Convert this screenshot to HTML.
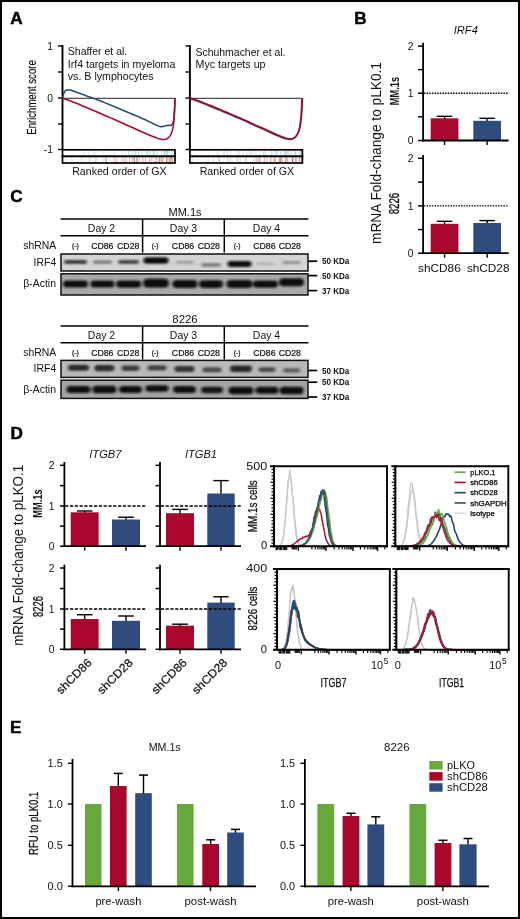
<!DOCTYPE html>
<html lang="en"><head><meta charset="utf-8"><title>Figure</title>
<style>
html,body{margin:0;padding:0;background:#fff;}
svg{display:block;font-family:"Liberation Sans",sans-serif;fill:#111;}
</style></head><body>
<svg width="520" height="919" viewBox="0 0 520 919">
<rect x="0" y="0" width="520" height="919" fill="#fff"/>
<rect x="1" y="1" width="518" height="917" fill="none" stroke="#000" stroke-width="2"/>
<text x="10.3" y="23.7" font-weight="bold" fill="#000" font-size="17.2" stroke="#000" stroke-width="0.45">A</text>
<text x="354.2" y="24.2" font-weight="bold" fill="#000" font-size="17.2" stroke="#000" stroke-width="0.45">B</text>
<text x="10.3" y="202.3" font-weight="bold" fill="#000" font-size="17.2" stroke="#000" stroke-width="0.45">C</text>
<text x="10.5" y="439" font-weight="bold" fill="#000" font-size="17.2" stroke="#000" stroke-width="0.45">D</text>
<text x="10" y="733.3" font-weight="bold" fill="#000" font-size="17.2" stroke="#000" stroke-width="0.45">E</text>
<line x1="62.5" y1="45" x2="62.5" y2="150" stroke="#000" stroke-width="1.9"/>
<line x1="58" y1="46" x2="62.5" y2="46" stroke="#000" stroke-width="1.4"/>
<text x="52.9" y="49.7" text-anchor="end" font-size="10.3">1</text>
<line x1="58" y1="72" x2="62.5" y2="72" stroke="#000" stroke-width="1.4"/>
<line x1="58" y1="98" x2="62.5" y2="98" stroke="#000" stroke-width="1.4"/>
<text x="52.9" y="101.7" text-anchor="end" font-size="10.3">0</text>
<line x1="58" y1="124" x2="62.5" y2="124" stroke="#000" stroke-width="1.4"/>
<line x1="58" y1="149.5" x2="62.5" y2="149.5" stroke="#000" stroke-width="1.4"/>
<text x="52.9" y="153.2" text-anchor="end" font-size="10.3">-1</text>
<line x1="62.5" y1="98.4" x2="175" y2="98.4" stroke="#505050" stroke-width="1.1"/>
<rect x="62.5" y="149.8" width="112.5" height="6.6" fill="#fff"/>
<line x1="130.03" y1="150.4" x2="130.03" y2="155.8" stroke="rgb(140,180,222)" stroke-width="0.9" opacity="0.11"/>
<line x1="154.59" y1="150.4" x2="154.59" y2="155.8" stroke="rgb(140,180,222)" stroke-width="0.9" opacity="0.11"/>
<line x1="146.95" y1="150.4" x2="146.95" y2="155.8" stroke="rgb(140,180,222)" stroke-width="0.9" opacity="0.21"/>
<line x1="94.18" y1="150.4" x2="94.18" y2="155.8" stroke="rgb(140,180,222)" stroke-width="0.9" opacity="0.14"/>
<line x1="88.71" y1="150.4" x2="88.71" y2="155.8" stroke="rgb(140,180,222)" stroke-width="0.9" opacity="0.11"/>
<line x1="96.86" y1="150.4" x2="96.86" y2="155.8" stroke="rgb(140,180,222)" stroke-width="0.9" opacity="0.06"/>
<line x1="138.65" y1="150.4" x2="138.65" y2="155.8" stroke="rgb(140,180,222)" stroke-width="0.9" opacity="0.34"/>
<line x1="106.66" y1="150.4" x2="106.66" y2="155.8" stroke="rgb(140,180,222)" stroke-width="0.9" opacity="0.1"/>
<line x1="153.09" y1="150.4" x2="153.09" y2="155.8" stroke="rgb(140,180,222)" stroke-width="0.9" opacity="0.45"/>
<line x1="149.78" y1="150.4" x2="149.78" y2="155.8" stroke="rgb(140,180,222)" stroke-width="0.9" opacity="0.22"/>
<line x1="172.81" y1="150.4" x2="172.81" y2="155.8" stroke="rgb(140,180,222)" stroke-width="0.9" opacity="0.12"/>
<line x1="166.67" y1="150.4" x2="166.67" y2="155.8" stroke="rgb(140,180,222)" stroke-width="0.9" opacity="0.22"/>
<line x1="109.74" y1="150.4" x2="109.74" y2="155.8" stroke="rgb(140,180,222)" stroke-width="0.9" opacity="0.07"/>
<line x1="128.59" y1="150.4" x2="128.59" y2="155.8" stroke="rgb(140,180,222)" stroke-width="0.9" opacity="0.3"/>
<line x1="114.67" y1="150.4" x2="114.67" y2="155.8" stroke="rgb(140,180,222)" stroke-width="0.9" opacity="0.2"/>
<line x1="153.83" y1="150.4" x2="153.83" y2="155.8" stroke="rgb(140,180,222)" stroke-width="0.9" opacity="0.22"/>
<line x1="147.78" y1="150.4" x2="147.78" y2="155.8" stroke="rgb(140,180,222)" stroke-width="0.9" opacity="0.1"/>
<line x1="94.56" y1="150.4" x2="94.56" y2="155.8" stroke="rgb(140,180,222)" stroke-width="0.9" opacity="0.08"/>
<line x1="156.42" y1="150.4" x2="156.42" y2="155.8" stroke="rgb(140,180,222)" stroke-width="0.9" opacity="0.25"/>
<line x1="129.13" y1="150.4" x2="129.13" y2="155.8" stroke="rgb(140,180,222)" stroke-width="0.9" opacity="0.23"/>
<line x1="140.89" y1="150.4" x2="140.89" y2="155.8" stroke="rgb(140,180,222)" stroke-width="0.9" opacity="0.17"/>
<line x1="163.13" y1="150.4" x2="163.13" y2="155.8" stroke="rgb(140,180,222)" stroke-width="0.9" opacity="0.39"/>
<line x1="122.08" y1="150.4" x2="122.08" y2="155.8" stroke="rgb(140,180,222)" stroke-width="0.9" opacity="0.21"/>
<line x1="146.2" y1="150.4" x2="146.2" y2="155.8" stroke="rgb(140,180,222)" stroke-width="0.9" opacity="0.39"/>
<line x1="159.38" y1="150.4" x2="159.38" y2="155.8" stroke="rgb(140,180,222)" stroke-width="0.9" opacity="0.2"/>
<line x1="173.01" y1="150.4" x2="173.01" y2="155.8" stroke="rgb(140,180,222)" stroke-width="0.9" opacity="0.15"/>
<line x1="138.14" y1="150.4" x2="138.14" y2="155.8" stroke="rgb(140,180,222)" stroke-width="0.9" opacity="0.32"/>
<line x1="110.83" y1="150.4" x2="110.83" y2="155.8" stroke="rgb(140,180,222)" stroke-width="0.9" opacity="0.16"/>
<line x1="89.23" y1="150.4" x2="89.23" y2="155.8" stroke="rgb(140,180,222)" stroke-width="0.9" opacity="0.16"/>
<line x1="161.43" y1="150.4" x2="161.43" y2="155.8" stroke="rgb(140,180,222)" stroke-width="0.9" opacity="0.33"/>
<line x1="167.58" y1="150.4" x2="167.58" y2="155.8" stroke="rgb(140,180,222)" stroke-width="0.9" opacity="0.23"/>
<line x1="157.33" y1="150.4" x2="157.33" y2="155.8" stroke="rgb(140,180,222)" stroke-width="0.9" opacity="0.32"/>
<line x1="149.97" y1="150.4" x2="149.97" y2="155.8" stroke="rgb(140,180,222)" stroke-width="0.9" opacity="0.25"/>
<line x1="165.66" y1="150.4" x2="165.66" y2="155.8" stroke="rgb(140,180,222)" stroke-width="0.9" opacity="0.51"/>
<line x1="142.48" y1="150.4" x2="142.48" y2="155.8" stroke="rgb(140,180,222)" stroke-width="0.9" opacity="0.3"/>
<line x1="94.81" y1="150.4" x2="94.81" y2="155.8" stroke="rgb(140,180,222)" stroke-width="0.9" opacity="0.18"/>
<line x1="154.35" y1="150.4" x2="154.35" y2="155.8" stroke="rgb(140,180,222)" stroke-width="0.9" opacity="0.47"/>
<line x1="164.67" y1="150.4" x2="164.67" y2="155.8" stroke="rgb(140,180,222)" stroke-width="0.9" opacity="0.21"/>
<line x1="135.48" y1="150.4" x2="135.48" y2="155.8" stroke="rgb(140,180,222)" stroke-width="0.9" opacity="0.28"/>
<line x1="83.56" y1="150.4" x2="83.56" y2="155.8" stroke="rgb(140,180,222)" stroke-width="0.9" opacity="0.11"/>
<line x1="113.02" y1="150.4" x2="113.02" y2="155.8" stroke="rgb(140,180,222)" stroke-width="0.9" opacity="0.08"/>
<line x1="94.41" y1="150.4" x2="94.41" y2="155.8" stroke="rgb(140,180,222)" stroke-width="0.9" opacity="0.19"/>
<line x1="107.52" y1="150.4" x2="107.52" y2="155.8" stroke="rgb(140,180,222)" stroke-width="0.9" opacity="0.1"/>
<line x1="135.91" y1="150.4" x2="135.91" y2="155.8" stroke="rgb(140,180,222)" stroke-width="0.9" opacity="0.35"/>
<line x1="99.08" y1="150.4" x2="99.08" y2="155.8" stroke="rgb(140,180,222)" stroke-width="0.9" opacity="0.13"/>
<line x1="147.9" y1="150.4" x2="147.9" y2="155.8" stroke="rgb(140,180,222)" stroke-width="0.9" opacity="0.4"/>
<line x1="164.52" y1="150.4" x2="164.52" y2="155.8" stroke="rgb(140,180,222)" stroke-width="0.9" opacity="0.47"/>
<line x1="125.66" y1="150.4" x2="125.66" y2="155.8" stroke="rgb(140,180,222)" stroke-width="0.9" opacity="0.18"/>
<line x1="133.17" y1="150.4" x2="133.17" y2="155.8" stroke="rgb(140,180,222)" stroke-width="0.9" opacity="0.34"/>
<line x1="171.87" y1="150.4" x2="171.87" y2="155.8" stroke="rgb(140,180,222)" stroke-width="0.9" opacity="0.17"/>
<line x1="114.09" y1="150.4" x2="114.09" y2="155.8" stroke="rgb(140,180,222)" stroke-width="0.9" opacity="0.11"/>
<line x1="120.91" y1="150.4" x2="120.91" y2="155.8" stroke="rgb(140,180,222)" stroke-width="0.9" opacity="0.18"/>
<line x1="150.59" y1="150.4" x2="150.59" y2="155.8" stroke="rgb(140,180,222)" stroke-width="0.9" opacity="0.18"/>
<line x1="72.81" y1="150.4" x2="72.81" y2="155.8" stroke="rgb(140,180,222)" stroke-width="0.9" opacity="0.09"/>
<line x1="134.08" y1="150.4" x2="134.08" y2="155.8" stroke="rgb(140,180,222)" stroke-width="0.9" opacity="0.24"/>
<line x1="171.64" y1="150.4" x2="171.64" y2="155.8" stroke="rgb(140,180,222)" stroke-width="0.9" opacity="0.42"/>
<line x1="145.51" y1="150.4" x2="145.51" y2="155.8" stroke="rgb(140,180,222)" stroke-width="0.9" opacity="0.29"/>
<line x1="156.16" y1="150.4" x2="156.16" y2="155.8" stroke="rgb(140,180,222)" stroke-width="0.9" opacity="0.1"/>
<line x1="168.86" y1="150.4" x2="168.86" y2="155.8" stroke="rgb(140,180,222)" stroke-width="0.9" opacity="0.45"/>
<line x1="167.53" y1="150.4" x2="167.53" y2="155.8" stroke="rgb(140,180,222)" stroke-width="0.9" opacity="0.45"/>
<line x1="136.03" y1="150.4" x2="136.03" y2="155.8" stroke="rgb(140,180,222)" stroke-width="0.9" opacity="0.19"/>
<line x1="103.32" y1="150.4" x2="103.32" y2="155.8" stroke="rgb(140,180,222)" stroke-width="0.9" opacity="0.18"/>
<line x1="95.18" y1="150.4" x2="95.18" y2="155.8" stroke="rgb(140,180,222)" stroke-width="0.9" opacity="0.05"/>
<line x1="118.1" y1="150.4" x2="118.1" y2="155.8" stroke="rgb(140,180,222)" stroke-width="0.9" opacity="0.09"/>
<line x1="131.51" y1="150.4" x2="131.51" y2="155.8" stroke="rgb(140,180,222)" stroke-width="0.9" opacity="0.08"/>
<line x1="66.06" y1="150.4" x2="66.06" y2="155.8" stroke="rgb(140,180,222)" stroke-width="0.9" opacity="0.05"/>
<line x1="102.96" y1="150.4" x2="102.96" y2="155.8" stroke="rgb(140,180,222)" stroke-width="0.9" opacity="0.12"/>
<line x1="84.7" y1="150.4" x2="84.7" y2="155.8" stroke="rgb(140,180,222)" stroke-width="0.9" opacity="0.19"/>
<line x1="152.23" y1="150.4" x2="152.23" y2="155.8" stroke="rgb(140,180,222)" stroke-width="0.9" opacity="0.13"/>
<line x1="122.96" y1="150.4" x2="122.96" y2="155.8" stroke="rgb(140,180,222)" stroke-width="0.9" opacity="0.15"/>
<line x1="133.64" y1="150.4" x2="133.64" y2="155.8" stroke="rgb(140,180,222)" stroke-width="0.9" opacity="0.1"/>
<line x1="166.15" y1="150.4" x2="166.15" y2="155.8" stroke="rgb(140,180,222)" stroke-width="0.9" opacity="0.53"/>
<line x1="141.87" y1="150.4" x2="141.87" y2="155.8" stroke="rgb(140,180,222)" stroke-width="0.9" opacity="0.24"/>
<line x1="100.11" y1="150.4" x2="100.11" y2="155.8" stroke="rgb(140,180,222)" stroke-width="0.9" opacity="0.06"/>
<line x1="131.74" y1="150.4" x2="131.74" y2="155.8" stroke="rgb(140,180,222)" stroke-width="0.9" opacity="0.14"/>
<rect x="62.5" y="149.8" width="112.5" height="6.6" fill="none" stroke="#000" stroke-width="1.7"/>
<rect x="62.5" y="156.4" width="112.5" height="6.6" fill="#fff"/>
<line x1="160.39" y1="157" x2="160.39" y2="162.4" stroke="rgb(180,100,90)" stroke-width="0.9" opacity="0.19"/>
<line x1="71.4" y1="157" x2="71.4" y2="162.4" stroke="rgb(180,100,90)" stroke-width="0.9" opacity="0.22"/>
<line x1="134.19" y1="157" x2="134.19" y2="162.4" stroke="rgb(180,100,90)" stroke-width="0.9" opacity="0.14"/>
<line x1="135.58" y1="157" x2="135.58" y2="162.4" stroke="rgb(180,100,90)" stroke-width="0.9" opacity="0.09"/>
<line x1="134.18" y1="157" x2="134.18" y2="162.4" stroke="rgb(180,100,90)" stroke-width="0.9" opacity="0.47"/>
<line x1="163.2" y1="157" x2="163.2" y2="162.4" stroke="rgb(180,100,90)" stroke-width="0.9" opacity="0.48"/>
<line x1="106.67" y1="157" x2="106.67" y2="162.4" stroke="rgb(180,100,90)" stroke-width="0.9" opacity="0.16"/>
<line x1="95.07" y1="157" x2="95.07" y2="162.4" stroke="rgb(180,100,90)" stroke-width="0.9" opacity="0.24"/>
<line x1="134.59" y1="157" x2="134.59" y2="162.4" stroke="rgb(180,100,90)" stroke-width="0.9" opacity="0.39"/>
<line x1="114.32" y1="157" x2="114.32" y2="162.4" stroke="rgb(180,100,90)" stroke-width="0.9" opacity="0.13"/>
<line x1="158.97" y1="157" x2="158.97" y2="162.4" stroke="rgb(180,100,90)" stroke-width="0.9" opacity="0.61"/>
<line x1="162.33" y1="157" x2="162.33" y2="162.4" stroke="rgb(180,100,90)" stroke-width="0.9" opacity="0.54"/>
<line x1="159.53" y1="157" x2="159.53" y2="162.4" stroke="rgb(180,100,90)" stroke-width="0.9" opacity="0.49"/>
<line x1="102.6" y1="157" x2="102.6" y2="162.4" stroke="rgb(180,100,90)" stroke-width="0.9" opacity="0.19"/>
<line x1="117.08" y1="157" x2="117.08" y2="162.4" stroke="rgb(180,100,90)" stroke-width="0.9" opacity="0.07"/>
<line x1="72.53" y1="157" x2="72.53" y2="162.4" stroke="rgb(180,100,90)" stroke-width="0.9" opacity="0.09"/>
<line x1="106.44" y1="157" x2="106.44" y2="162.4" stroke="rgb(180,100,90)" stroke-width="0.9" opacity="0.25"/>
<line x1="170.61" y1="157" x2="170.61" y2="162.4" stroke="rgb(180,100,90)" stroke-width="0.9" opacity="0.38"/>
<line x1="169.08" y1="157" x2="169.08" y2="162.4" stroke="rgb(180,100,90)" stroke-width="0.9" opacity="0.68"/>
<line x1="170.5" y1="157" x2="170.5" y2="162.4" stroke="rgb(180,100,90)" stroke-width="0.9" opacity="0.33"/>
<line x1="101.84" y1="157" x2="101.84" y2="162.4" stroke="rgb(180,100,90)" stroke-width="0.9" opacity="0.11"/>
<line x1="98.9" y1="157" x2="98.9" y2="162.4" stroke="rgb(180,100,90)" stroke-width="0.9" opacity="0.1"/>
<line x1="142.94" y1="157" x2="142.94" y2="162.4" stroke="rgb(180,100,90)" stroke-width="0.9" opacity="0.48"/>
<line x1="161.34" y1="157" x2="161.34" y2="162.4" stroke="rgb(180,100,90)" stroke-width="0.9" opacity="0.36"/>
<line x1="145.5" y1="157" x2="145.5" y2="162.4" stroke="rgb(180,100,90)" stroke-width="0.9" opacity="0.45"/>
<line x1="83.14" y1="157" x2="83.14" y2="162.4" stroke="rgb(180,100,90)" stroke-width="0.9" opacity="0.18"/>
<line x1="166.92" y1="157" x2="166.92" y2="162.4" stroke="rgb(180,100,90)" stroke-width="0.9" opacity="0.55"/>
<line x1="153.86" y1="157" x2="153.86" y2="162.4" stroke="rgb(180,100,90)" stroke-width="0.9" opacity="0.33"/>
<line x1="96.58" y1="157" x2="96.58" y2="162.4" stroke="rgb(180,100,90)" stroke-width="0.9" opacity="0.25"/>
<line x1="114.62" y1="157" x2="114.62" y2="162.4" stroke="rgb(180,100,90)" stroke-width="0.9" opacity="0.31"/>
<line x1="171.8" y1="157" x2="171.8" y2="162.4" stroke="rgb(180,100,90)" stroke-width="0.9" opacity="0.35"/>
<line x1="121.83" y1="157" x2="121.83" y2="162.4" stroke="rgb(180,100,90)" stroke-width="0.9" opacity="0.39"/>
<line x1="151.71" y1="157" x2="151.71" y2="162.4" stroke="rgb(180,100,90)" stroke-width="0.9" opacity="0.18"/>
<line x1="89.57" y1="157" x2="89.57" y2="162.4" stroke="rgb(180,100,90)" stroke-width="0.9" opacity="0.08"/>
<line x1="166.53" y1="157" x2="166.53" y2="162.4" stroke="rgb(180,100,90)" stroke-width="0.9" opacity="0.56"/>
<line x1="92.26" y1="157" x2="92.26" y2="162.4" stroke="rgb(180,100,90)" stroke-width="0.9" opacity="0.24"/>
<line x1="172.47" y1="157" x2="172.47" y2="162.4" stroke="rgb(180,100,90)" stroke-width="0.9" opacity="0.51"/>
<line x1="116.54" y1="157" x2="116.54" y2="162.4" stroke="rgb(180,100,90)" stroke-width="0.9" opacity="0.24"/>
<line x1="90.13" y1="157" x2="90.13" y2="162.4" stroke="rgb(180,100,90)" stroke-width="0.9" opacity="0.05"/>
<line x1="171.74" y1="157" x2="171.74" y2="162.4" stroke="rgb(180,100,90)" stroke-width="0.9" opacity="0.5"/>
<line x1="134.03" y1="157" x2="134.03" y2="162.4" stroke="rgb(180,100,90)" stroke-width="0.9" opacity="0.45"/>
<line x1="125.08" y1="157" x2="125.08" y2="162.4" stroke="rgb(180,100,90)" stroke-width="0.9" opacity="0.38"/>
<line x1="160.17" y1="157" x2="160.17" y2="162.4" stroke="rgb(180,100,90)" stroke-width="0.9" opacity="0.22"/>
<line x1="105.59" y1="157" x2="105.59" y2="162.4" stroke="rgb(180,100,90)" stroke-width="0.9" opacity="0.14"/>
<line x1="104.26" y1="157" x2="104.26" y2="162.4" stroke="rgb(180,100,90)" stroke-width="0.9" opacity="0.22"/>
<line x1="106.46" y1="157" x2="106.46" y2="162.4" stroke="rgb(180,100,90)" stroke-width="0.9" opacity="0.17"/>
<line x1="90.15" y1="157" x2="90.15" y2="162.4" stroke="rgb(180,100,90)" stroke-width="0.9" opacity="0.26"/>
<line x1="116.89" y1="157" x2="116.89" y2="162.4" stroke="rgb(180,100,90)" stroke-width="0.9" opacity="0.21"/>
<line x1="139.27" y1="157" x2="139.27" y2="162.4" stroke="rgb(180,100,90)" stroke-width="0.9" opacity="0.46"/>
<line x1="123.77" y1="157" x2="123.77" y2="162.4" stroke="rgb(180,100,90)" stroke-width="0.9" opacity="0.39"/>
<line x1="131.68" y1="157" x2="131.68" y2="162.4" stroke="rgb(180,100,90)" stroke-width="0.9" opacity="0.28"/>
<line x1="133.74" y1="157" x2="133.74" y2="162.4" stroke="rgb(180,100,90)" stroke-width="0.9" opacity="0.09"/>
<line x1="125.71" y1="157" x2="125.71" y2="162.4" stroke="rgb(180,100,90)" stroke-width="0.9" opacity="0.14"/>
<line x1="65.79" y1="157" x2="65.79" y2="162.4" stroke="rgb(180,100,90)" stroke-width="0.9" opacity="0.18"/>
<line x1="95.77" y1="157" x2="95.77" y2="162.4" stroke="rgb(180,100,90)" stroke-width="0.9" opacity="0.17"/>
<line x1="151.74" y1="157" x2="151.74" y2="162.4" stroke="rgb(180,100,90)" stroke-width="0.9" opacity="0.36"/>
<line x1="113.92" y1="157" x2="113.92" y2="162.4" stroke="rgb(180,100,90)" stroke-width="0.9" opacity="0.22"/>
<line x1="136.72" y1="157" x2="136.72" y2="162.4" stroke="rgb(180,100,90)" stroke-width="0.9" opacity="0.4"/>
<line x1="86.48" y1="157" x2="86.48" y2="162.4" stroke="rgb(180,100,90)" stroke-width="0.9" opacity="0.17"/>
<line x1="105.19" y1="157" x2="105.19" y2="162.4" stroke="rgb(180,100,90)" stroke-width="0.9" opacity="0.13"/>
<line x1="155.71" y1="157" x2="155.71" y2="162.4" stroke="rgb(180,100,90)" stroke-width="0.9" opacity="0.35"/>
<line x1="137.3" y1="157" x2="137.3" y2="162.4" stroke="rgb(180,100,90)" stroke-width="0.9" opacity="0.39"/>
<line x1="167.14" y1="157" x2="167.14" y2="162.4" stroke="rgb(180,100,90)" stroke-width="0.9" opacity="0.36"/>
<line x1="141.91" y1="157" x2="141.91" y2="162.4" stroke="rgb(180,100,90)" stroke-width="0.9" opacity="0.3"/>
<line x1="132.67" y1="157" x2="132.67" y2="162.4" stroke="rgb(180,100,90)" stroke-width="0.9" opacity="0.35"/>
<line x1="126.91" y1="157" x2="126.91" y2="162.4" stroke="rgb(180,100,90)" stroke-width="0.9" opacity="0.27"/>
<line x1="129.42" y1="157" x2="129.42" y2="162.4" stroke="rgb(180,100,90)" stroke-width="0.9" opacity="0.43"/>
<line x1="149.52" y1="157" x2="149.52" y2="162.4" stroke="rgb(180,100,90)" stroke-width="0.9" opacity="0.5"/>
<line x1="169.49" y1="157" x2="169.49" y2="162.4" stroke="rgb(180,100,90)" stroke-width="0.9" opacity="0.26"/>
<line x1="137.09" y1="157" x2="137.09" y2="162.4" stroke="rgb(180,100,90)" stroke-width="0.9" opacity="0.47"/>
<line x1="161.3" y1="157" x2="161.3" y2="162.4" stroke="rgb(180,100,90)" stroke-width="0.9" opacity="0.18"/>
<line x1="88.79" y1="157" x2="88.79" y2="162.4" stroke="rgb(180,100,90)" stroke-width="0.9" opacity="0.15"/>
<line x1="81.11" y1="157" x2="81.11" y2="162.4" stroke="rgb(180,100,90)" stroke-width="0.9" opacity="0.09"/>
<line x1="81.21" y1="157" x2="81.21" y2="162.4" stroke="rgb(180,100,90)" stroke-width="0.9" opacity="0.18"/>
<line x1="156.69" y1="157" x2="156.69" y2="162.4" stroke="rgb(180,100,90)" stroke-width="0.9" opacity="0.55"/>
<rect x="62.5" y="156.4" width="112.5" height="6.6" fill="none" stroke="#000" stroke-width="1.7"/>
<line x1="189.9" y1="45" x2="189.9" y2="150" stroke="#000" stroke-width="1.9"/>
<line x1="185.4" y1="46" x2="189.9" y2="46" stroke="#000" stroke-width="1.4"/>
<line x1="185.4" y1="72" x2="189.9" y2="72" stroke="#000" stroke-width="1.4"/>
<line x1="185.4" y1="98" x2="189.9" y2="98" stroke="#000" stroke-width="1.4"/>
<line x1="185.4" y1="124" x2="189.9" y2="124" stroke="#000" stroke-width="1.4"/>
<line x1="185.4" y1="149.5" x2="189.9" y2="149.5" stroke="#000" stroke-width="1.4"/>
<line x1="189.9" y1="98.4" x2="302.4" y2="98.4" stroke="#505050" stroke-width="1.1"/>
<rect x="189.9" y="149.8" width="112.5" height="6.6" fill="#fff"/>
<line x1="238.58" y1="150.4" x2="238.58" y2="155.8" stroke="rgb(140,180,222)" stroke-width="0.9" opacity="0.22"/>
<line x1="282.57" y1="150.4" x2="282.57" y2="155.8" stroke="rgb(140,180,222)" stroke-width="0.9" opacity="0.14"/>
<line x1="295.37" y1="150.4" x2="295.37" y2="155.8" stroke="rgb(140,180,222)" stroke-width="0.9" opacity="0.53"/>
<line x1="246.76" y1="150.4" x2="246.76" y2="155.8" stroke="rgb(140,180,222)" stroke-width="0.9" opacity="0.31"/>
<line x1="263.92" y1="150.4" x2="263.92" y2="155.8" stroke="rgb(140,180,222)" stroke-width="0.9" opacity="0.22"/>
<line x1="300.89" y1="150.4" x2="300.89" y2="155.8" stroke="rgb(140,180,222)" stroke-width="0.9" opacity="0.49"/>
<line x1="239.54" y1="150.4" x2="239.54" y2="155.8" stroke="rgb(140,180,222)" stroke-width="0.9" opacity="0.15"/>
<line x1="272.92" y1="150.4" x2="272.92" y2="155.8" stroke="rgb(140,180,222)" stroke-width="0.9" opacity="0.19"/>
<line x1="243.94" y1="150.4" x2="243.94" y2="155.8" stroke="rgb(140,180,222)" stroke-width="0.9" opacity="0.13"/>
<line x1="286.34" y1="150.4" x2="286.34" y2="155.8" stroke="rgb(140,180,222)" stroke-width="0.9" opacity="0.09"/>
<line x1="275.61" y1="150.4" x2="275.61" y2="155.8" stroke="rgb(140,180,222)" stroke-width="0.9" opacity="0.24"/>
<line x1="209.06" y1="150.4" x2="209.06" y2="155.8" stroke="rgb(140,180,222)" stroke-width="0.9" opacity="0.09"/>
<line x1="280.27" y1="150.4" x2="280.27" y2="155.8" stroke="rgb(140,180,222)" stroke-width="0.9" opacity="0.28"/>
<line x1="223.04" y1="150.4" x2="223.04" y2="155.8" stroke="rgb(140,180,222)" stroke-width="0.9" opacity="0.23"/>
<line x1="290.19" y1="150.4" x2="290.19" y2="155.8" stroke="rgb(140,180,222)" stroke-width="0.9" opacity="0.5"/>
<line x1="230.94" y1="150.4" x2="230.94" y2="155.8" stroke="rgb(140,180,222)" stroke-width="0.9" opacity="0.1"/>
<line x1="216.74" y1="150.4" x2="216.74" y2="155.8" stroke="rgb(140,180,222)" stroke-width="0.9" opacity="0.18"/>
<line x1="252.25" y1="150.4" x2="252.25" y2="155.8" stroke="rgb(140,180,222)" stroke-width="0.9" opacity="0.09"/>
<line x1="265.87" y1="150.4" x2="265.87" y2="155.8" stroke="rgb(140,180,222)" stroke-width="0.9" opacity="0.37"/>
<line x1="291.9" y1="150.4" x2="291.9" y2="155.8" stroke="rgb(140,180,222)" stroke-width="0.9" opacity="0.2"/>
<line x1="237.87" y1="150.4" x2="237.87" y2="155.8" stroke="rgb(140,180,222)" stroke-width="0.9" opacity="0.27"/>
<line x1="276.74" y1="150.4" x2="276.74" y2="155.8" stroke="rgb(140,180,222)" stroke-width="0.9" opacity="0.34"/>
<line x1="228.19" y1="150.4" x2="228.19" y2="155.8" stroke="rgb(140,180,222)" stroke-width="0.9" opacity="0.05"/>
<line x1="284.3" y1="150.4" x2="284.3" y2="155.8" stroke="rgb(140,180,222)" stroke-width="0.9" opacity="0.25"/>
<line x1="224.81" y1="150.4" x2="224.81" y2="155.8" stroke="rgb(140,180,222)" stroke-width="0.9" opacity="0.23"/>
<line x1="280.94" y1="150.4" x2="280.94" y2="155.8" stroke="rgb(140,180,222)" stroke-width="0.9" opacity="0.39"/>
<line x1="227.1" y1="150.4" x2="227.1" y2="155.8" stroke="rgb(140,180,222)" stroke-width="0.9" opacity="0.22"/>
<line x1="223.56" y1="150.4" x2="223.56" y2="155.8" stroke="rgb(140,180,222)" stroke-width="0.9" opacity="0.21"/>
<line x1="268.34" y1="150.4" x2="268.34" y2="155.8" stroke="rgb(140,180,222)" stroke-width="0.9" opacity="0.18"/>
<line x1="275.55" y1="150.4" x2="275.55" y2="155.8" stroke="rgb(140,180,222)" stroke-width="0.9" opacity="0.42"/>
<line x1="251.98" y1="150.4" x2="251.98" y2="155.8" stroke="rgb(140,180,222)" stroke-width="0.9" opacity="0.09"/>
<line x1="273.72" y1="150.4" x2="273.72" y2="155.8" stroke="rgb(140,180,222)" stroke-width="0.9" opacity="0.16"/>
<line x1="231.73" y1="150.4" x2="231.73" y2="155.8" stroke="rgb(140,180,222)" stroke-width="0.9" opacity="0.08"/>
<line x1="219.7" y1="150.4" x2="219.7" y2="155.8" stroke="rgb(140,180,222)" stroke-width="0.9" opacity="0.08"/>
<line x1="256.32" y1="150.4" x2="256.32" y2="155.8" stroke="rgb(140,180,222)" stroke-width="0.9" opacity="0.15"/>
<line x1="288.53" y1="150.4" x2="288.53" y2="155.8" stroke="rgb(140,180,222)" stroke-width="0.9" opacity="0.21"/>
<line x1="271.8" y1="150.4" x2="271.8" y2="155.8" stroke="rgb(140,180,222)" stroke-width="0.9" opacity="0.13"/>
<line x1="259.53" y1="150.4" x2="259.53" y2="155.8" stroke="rgb(140,180,222)" stroke-width="0.9" opacity="0.07"/>
<line x1="250.16" y1="150.4" x2="250.16" y2="155.8" stroke="rgb(140,180,222)" stroke-width="0.9" opacity="0.06"/>
<line x1="286.99" y1="150.4" x2="286.99" y2="155.8" stroke="rgb(140,180,222)" stroke-width="0.9" opacity="0.31"/>
<line x1="243.17" y1="150.4" x2="243.17" y2="155.8" stroke="rgb(140,180,222)" stroke-width="0.9" opacity="0.17"/>
<line x1="298.09" y1="150.4" x2="298.09" y2="155.8" stroke="rgb(140,180,222)" stroke-width="0.9" opacity="0.14"/>
<line x1="291.9" y1="150.4" x2="291.9" y2="155.8" stroke="rgb(140,180,222)" stroke-width="0.9" opacity="0.28"/>
<line x1="271.43" y1="150.4" x2="271.43" y2="155.8" stroke="rgb(140,180,222)" stroke-width="0.9" opacity="0.37"/>
<line x1="263.49" y1="150.4" x2="263.49" y2="155.8" stroke="rgb(140,180,222)" stroke-width="0.9" opacity="0.23"/>
<line x1="284.27" y1="150.4" x2="284.27" y2="155.8" stroke="rgb(140,180,222)" stroke-width="0.9" opacity="0.48"/>
<line x1="259.15" y1="150.4" x2="259.15" y2="155.8" stroke="rgb(140,180,222)" stroke-width="0.9" opacity="0.32"/>
<line x1="285.42" y1="150.4" x2="285.42" y2="155.8" stroke="rgb(140,180,222)" stroke-width="0.9" opacity="0.34"/>
<line x1="264.45" y1="150.4" x2="264.45" y2="155.8" stroke="rgb(140,180,222)" stroke-width="0.9" opacity="0.18"/>
<line x1="220.71" y1="150.4" x2="220.71" y2="155.8" stroke="rgb(140,180,222)" stroke-width="0.9" opacity="0.06"/>
<line x1="224.45" y1="150.4" x2="224.45" y2="155.8" stroke="rgb(140,180,222)" stroke-width="0.9" opacity="0.19"/>
<line x1="250.71" y1="150.4" x2="250.71" y2="155.8" stroke="rgb(140,180,222)" stroke-width="0.9" opacity="0.1"/>
<line x1="227.24" y1="150.4" x2="227.24" y2="155.8" stroke="rgb(140,180,222)" stroke-width="0.9" opacity="0.22"/>
<line x1="294.72" y1="150.4" x2="294.72" y2="155.8" stroke="rgb(140,180,222)" stroke-width="0.9" opacity="0.39"/>
<line x1="253.41" y1="150.4" x2="253.41" y2="155.8" stroke="rgb(140,180,222)" stroke-width="0.9" opacity="0.13"/>
<line x1="254.51" y1="150.4" x2="254.51" y2="155.8" stroke="rgb(140,180,222)" stroke-width="0.9" opacity="0.19"/>
<line x1="239" y1="150.4" x2="239" y2="155.8" stroke="rgb(140,180,222)" stroke-width="0.9" opacity="0.16"/>
<line x1="251.51" y1="150.4" x2="251.51" y2="155.8" stroke="rgb(140,180,222)" stroke-width="0.9" opacity="0.33"/>
<line x1="300.03" y1="150.4" x2="300.03" y2="155.8" stroke="rgb(140,180,222)" stroke-width="0.9" opacity="0.35"/>
<line x1="249.52" y1="150.4" x2="249.52" y2="155.8" stroke="rgb(140,180,222)" stroke-width="0.9" opacity="0.32"/>
<line x1="256.09" y1="150.4" x2="256.09" y2="155.8" stroke="rgb(140,180,222)" stroke-width="0.9" opacity="0.16"/>
<line x1="195.99" y1="150.4" x2="195.99" y2="155.8" stroke="rgb(140,180,222)" stroke-width="0.9" opacity="0.09"/>
<line x1="269.92" y1="150.4" x2="269.92" y2="155.8" stroke="rgb(140,180,222)" stroke-width="0.9" opacity="0.24"/>
<line x1="244.58" y1="150.4" x2="244.58" y2="155.8" stroke="rgb(140,180,222)" stroke-width="0.9" opacity="0.18"/>
<line x1="201.04" y1="150.4" x2="201.04" y2="155.8" stroke="rgb(140,180,222)" stroke-width="0.9" opacity="0.07"/>
<line x1="228.25" y1="150.4" x2="228.25" y2="155.8" stroke="rgb(140,180,222)" stroke-width="0.9" opacity="0.13"/>
<line x1="217.34" y1="150.4" x2="217.34" y2="155.8" stroke="rgb(140,180,222)" stroke-width="0.9" opacity="0.04"/>
<line x1="255.59" y1="150.4" x2="255.59" y2="155.8" stroke="rgb(140,180,222)" stroke-width="0.9" opacity="0.13"/>
<line x1="277.75" y1="150.4" x2="277.75" y2="155.8" stroke="rgb(140,180,222)" stroke-width="0.9" opacity="0.28"/>
<line x1="288.01" y1="150.4" x2="288.01" y2="155.8" stroke="rgb(140,180,222)" stroke-width="0.9" opacity="0.36"/>
<line x1="285.98" y1="150.4" x2="285.98" y2="155.8" stroke="rgb(140,180,222)" stroke-width="0.9" opacity="0.44"/>
<line x1="263.19" y1="150.4" x2="263.19" y2="155.8" stroke="rgb(140,180,222)" stroke-width="0.9" opacity="0.17"/>
<line x1="300.64" y1="150.4" x2="300.64" y2="155.8" stroke="rgb(140,180,222)" stroke-width="0.9" opacity="0.17"/>
<line x1="286.46" y1="150.4" x2="286.46" y2="155.8" stroke="rgb(140,180,222)" stroke-width="0.9" opacity="0.35"/>
<line x1="217.94" y1="150.4" x2="217.94" y2="155.8" stroke="rgb(140,180,222)" stroke-width="0.9" opacity="0.19"/>
<rect x="189.9" y="149.8" width="112.5" height="6.6" fill="none" stroke="#000" stroke-width="1.7"/>
<rect x="189.9" y="156.4" width="112.5" height="6.6" fill="#fff"/>
<line x1="292.9" y1="157" x2="292.9" y2="162.4" stroke="rgb(180,100,90)" stroke-width="0.9" opacity="0.46"/>
<line x1="279.88" y1="157" x2="279.88" y2="162.4" stroke="rgb(180,100,90)" stroke-width="0.9" opacity="0.49"/>
<line x1="218.71" y1="157" x2="218.71" y2="162.4" stroke="rgb(180,100,90)" stroke-width="0.9" opacity="0.17"/>
<line x1="259.34" y1="157" x2="259.34" y2="162.4" stroke="rgb(180,100,90)" stroke-width="0.9" opacity="0.4"/>
<line x1="285.81" y1="157" x2="285.81" y2="162.4" stroke="rgb(180,100,90)" stroke-width="0.9" opacity="0.53"/>
<line x1="266.74" y1="157" x2="266.74" y2="162.4" stroke="rgb(180,100,90)" stroke-width="0.9" opacity="0.46"/>
<line x1="275.51" y1="157" x2="275.51" y2="162.4" stroke="rgb(180,100,90)" stroke-width="0.9" opacity="0.41"/>
<line x1="230.39" y1="157" x2="230.39" y2="162.4" stroke="rgb(180,100,90)" stroke-width="0.9" opacity="0.06"/>
<line x1="217.83" y1="157" x2="217.83" y2="162.4" stroke="rgb(180,100,90)" stroke-width="0.9" opacity="0.13"/>
<line x1="213.7" y1="157" x2="213.7" y2="162.4" stroke="rgb(180,100,90)" stroke-width="0.9" opacity="0.23"/>
<line x1="264.4" y1="157" x2="264.4" y2="162.4" stroke="rgb(180,100,90)" stroke-width="0.9" opacity="0.34"/>
<line x1="270.53" y1="157" x2="270.53" y2="162.4" stroke="rgb(180,100,90)" stroke-width="0.9" opacity="0.38"/>
<line x1="257.9" y1="157" x2="257.9" y2="162.4" stroke="rgb(180,100,90)" stroke-width="0.9" opacity="0.08"/>
<line x1="285.23" y1="157" x2="285.23" y2="162.4" stroke="rgb(180,100,90)" stroke-width="0.9" opacity="0.48"/>
<line x1="259.2" y1="157" x2="259.2" y2="162.4" stroke="rgb(180,100,90)" stroke-width="0.9" opacity="0.28"/>
<line x1="273.45" y1="157" x2="273.45" y2="162.4" stroke="rgb(180,100,90)" stroke-width="0.9" opacity="0.12"/>
<line x1="280.13" y1="157" x2="280.13" y2="162.4" stroke="rgb(180,100,90)" stroke-width="0.9" opacity="0.22"/>
<line x1="208.83" y1="157" x2="208.83" y2="162.4" stroke="rgb(180,100,90)" stroke-width="0.9" opacity="0.1"/>
<line x1="279.5" y1="157" x2="279.5" y2="162.4" stroke="rgb(180,100,90)" stroke-width="0.9" opacity="0.2"/>
<line x1="280.39" y1="157" x2="280.39" y2="162.4" stroke="rgb(180,100,90)" stroke-width="0.9" opacity="0.57"/>
<line x1="258.34" y1="157" x2="258.34" y2="162.4" stroke="rgb(180,100,90)" stroke-width="0.9" opacity="0.22"/>
<line x1="256.91" y1="157" x2="256.91" y2="162.4" stroke="rgb(180,100,90)" stroke-width="0.9" opacity="0.33"/>
<line x1="282.67" y1="157" x2="282.67" y2="162.4" stroke="rgb(180,100,90)" stroke-width="0.9" opacity="0.41"/>
<line x1="272" y1="157" x2="272" y2="162.4" stroke="rgb(180,100,90)" stroke-width="0.9" opacity="0.12"/>
<line x1="219.83" y1="157" x2="219.83" y2="162.4" stroke="rgb(180,100,90)" stroke-width="0.9" opacity="0.11"/>
<line x1="280.67" y1="157" x2="280.67" y2="162.4" stroke="rgb(180,100,90)" stroke-width="0.9" opacity="0.25"/>
<line x1="265.25" y1="157" x2="265.25" y2="162.4" stroke="rgb(180,100,90)" stroke-width="0.9" opacity="0.09"/>
<line x1="206.44" y1="157" x2="206.44" y2="162.4" stroke="rgb(180,100,90)" stroke-width="0.9" opacity="0.09"/>
<line x1="274.56" y1="157" x2="274.56" y2="162.4" stroke="rgb(180,100,90)" stroke-width="0.9" opacity="0.41"/>
<line x1="274.88" y1="157" x2="274.88" y2="162.4" stroke="rgb(180,100,90)" stroke-width="0.9" opacity="0.22"/>
<line x1="260.49" y1="157" x2="260.49" y2="162.4" stroke="rgb(180,100,90)" stroke-width="0.9" opacity="0.26"/>
<line x1="255.68" y1="157" x2="255.68" y2="162.4" stroke="rgb(180,100,90)" stroke-width="0.9" opacity="0.12"/>
<line x1="293.04" y1="157" x2="293.04" y2="162.4" stroke="rgb(180,100,90)" stroke-width="0.9" opacity="0.22"/>
<line x1="299.7" y1="157" x2="299.7" y2="162.4" stroke="rgb(180,100,90)" stroke-width="0.9" opacity="0.67"/>
<line x1="197.41" y1="157" x2="197.41" y2="162.4" stroke="rgb(180,100,90)" stroke-width="0.9" opacity="0.12"/>
<line x1="287.06" y1="157" x2="287.06" y2="162.4" stroke="rgb(180,100,90)" stroke-width="0.9" opacity="0.61"/>
<line x1="254.03" y1="157" x2="254.03" y2="162.4" stroke="rgb(180,100,90)" stroke-width="0.9" opacity="0.17"/>
<line x1="227.94" y1="157" x2="227.94" y2="162.4" stroke="rgb(180,100,90)" stroke-width="0.9" opacity="0.3"/>
<line x1="228.05" y1="157" x2="228.05" y2="162.4" stroke="rgb(180,100,90)" stroke-width="0.9" opacity="0.2"/>
<line x1="219.05" y1="157" x2="219.05" y2="162.4" stroke="rgb(180,100,90)" stroke-width="0.9" opacity="0.17"/>
<line x1="297.72" y1="157" x2="297.72" y2="162.4" stroke="rgb(180,100,90)" stroke-width="0.9" opacity="0.19"/>
<line x1="287.09" y1="157" x2="287.09" y2="162.4" stroke="rgb(180,100,90)" stroke-width="0.9" opacity="0.37"/>
<line x1="292.49" y1="157" x2="292.49" y2="162.4" stroke="rgb(180,100,90)" stroke-width="0.9" opacity="0.5"/>
<line x1="230.56" y1="157" x2="230.56" y2="162.4" stroke="rgb(180,100,90)" stroke-width="0.9" opacity="0.3"/>
<line x1="257.6" y1="157" x2="257.6" y2="162.4" stroke="rgb(180,100,90)" stroke-width="0.9" opacity="0.08"/>
<line x1="193.05" y1="157" x2="193.05" y2="162.4" stroke="rgb(180,100,90)" stroke-width="0.9" opacity="0.13"/>
<line x1="254.16" y1="157" x2="254.16" y2="162.4" stroke="rgb(180,100,90)" stroke-width="0.9" opacity="0.18"/>
<line x1="218.9" y1="157" x2="218.9" y2="162.4" stroke="rgb(180,100,90)" stroke-width="0.9" opacity="0.13"/>
<line x1="240.24" y1="157" x2="240.24" y2="162.4" stroke="rgb(180,100,90)" stroke-width="0.9" opacity="0.32"/>
<line x1="192.19" y1="157" x2="192.19" y2="162.4" stroke="rgb(180,100,90)" stroke-width="0.9" opacity="0.17"/>
<line x1="288.63" y1="157" x2="288.63" y2="162.4" stroke="rgb(180,100,90)" stroke-width="0.9" opacity="0.17"/>
<line x1="295.64" y1="157" x2="295.64" y2="162.4" stroke="rgb(180,100,90)" stroke-width="0.9" opacity="0.52"/>
<line x1="293.67" y1="157" x2="293.67" y2="162.4" stroke="rgb(180,100,90)" stroke-width="0.9" opacity="0.27"/>
<line x1="246.23" y1="157" x2="246.23" y2="162.4" stroke="rgb(180,100,90)" stroke-width="0.9" opacity="0.19"/>
<line x1="301.31" y1="157" x2="301.31" y2="162.4" stroke="rgb(180,100,90)" stroke-width="0.9" opacity="0.47"/>
<line x1="245.02" y1="157" x2="245.02" y2="162.4" stroke="rgb(180,100,90)" stroke-width="0.9" opacity="0.2"/>
<line x1="235.68" y1="157" x2="235.68" y2="162.4" stroke="rgb(180,100,90)" stroke-width="0.9" opacity="0.07"/>
<line x1="213.21" y1="157" x2="213.21" y2="162.4" stroke="rgb(180,100,90)" stroke-width="0.9" opacity="0.23"/>
<line x1="236.86" y1="157" x2="236.86" y2="162.4" stroke="rgb(180,100,90)" stroke-width="0.9" opacity="0.33"/>
<line x1="232.69" y1="157" x2="232.69" y2="162.4" stroke="rgb(180,100,90)" stroke-width="0.9" opacity="0.13"/>
<line x1="259.96" y1="157" x2="259.96" y2="162.4" stroke="rgb(180,100,90)" stroke-width="0.9" opacity="0.15"/>
<line x1="246.34" y1="157" x2="246.34" y2="162.4" stroke="rgb(180,100,90)" stroke-width="0.9" opacity="0.38"/>
<line x1="292.28" y1="157" x2="292.28" y2="162.4" stroke="rgb(180,100,90)" stroke-width="0.9" opacity="0.56"/>
<line x1="270.94" y1="157" x2="270.94" y2="162.4" stroke="rgb(180,100,90)" stroke-width="0.9" opacity="0.49"/>
<line x1="296.77" y1="157" x2="296.77" y2="162.4" stroke="rgb(180,100,90)" stroke-width="0.9" opacity="0.43"/>
<line x1="278.66" y1="157" x2="278.66" y2="162.4" stroke="rgb(180,100,90)" stroke-width="0.9" opacity="0.12"/>
<line x1="279.75" y1="157" x2="279.75" y2="162.4" stroke="rgb(180,100,90)" stroke-width="0.9" opacity="0.31"/>
<line x1="281.47" y1="157" x2="281.47" y2="162.4" stroke="rgb(180,100,90)" stroke-width="0.9" opacity="0.42"/>
<line x1="236.93" y1="157" x2="236.93" y2="162.4" stroke="rgb(180,100,90)" stroke-width="0.9" opacity="0.07"/>
<line x1="295.67" y1="157" x2="295.67" y2="162.4" stroke="rgb(180,100,90)" stroke-width="0.9" opacity="0.19"/>
<line x1="256.25" y1="157" x2="256.25" y2="162.4" stroke="rgb(180,100,90)" stroke-width="0.9" opacity="0.2"/>
<line x1="238.22" y1="157" x2="238.22" y2="162.4" stroke="rgb(180,100,90)" stroke-width="0.9" opacity="0.28"/>
<line x1="299.56" y1="157" x2="299.56" y2="162.4" stroke="rgb(180,100,90)" stroke-width="0.9" opacity="0.27"/>
<line x1="273.16" y1="157" x2="273.16" y2="162.4" stroke="rgb(180,100,90)" stroke-width="0.9" opacity="0.23"/>
<line x1="264.29" y1="157" x2="264.29" y2="162.4" stroke="rgb(180,100,90)" stroke-width="0.9" opacity="0.24"/>
<rect x="189.9" y="156.4" width="112.5" height="6.6" fill="none" stroke="#000" stroke-width="1.7"/>
<polyline fill="none" stroke="#2e4c7e" stroke-width="1.6" stroke-linejoin="round" points="62.5,98 62.62,97.58 62.78,96.98 62.98,96.28 63.19,95.54 63.4,94.83 63.6,94.2 63.79,93.64 63.98,93.1 64.17,92.58 64.37,92.1 64.58,91.67 64.8,91.3 65.02,91 65.23,90.77 65.46,90.59 65.7,90.44 65.98,90.32 66.3,90.2 66.68,90.09 67.1,90 67.56,89.94 68.03,89.9 68.52,89.88 69,89.9 69.45,89.94 69.87,90 70.29,90.09 70.77,90.22 71.32,90.38 72,90.6 72.81,90.88 73.74,91.21 74.75,91.59 75.81,91.99 76.91,92.4 78,92.8 79.1,93.2 80.24,93.6 81.41,94.02 82.59,94.44 83.79,94.87 85,95.3 86.22,95.74 87.46,96.18 88.72,96.63 89.98,97.09 91.24,97.54 92.5,98 93.61,98.4 94.54,98.73 95.47,99.06 96.57,99.46 98.03,100.02 100,100.8 102.61,101.85 105.74,103.12 109.22,104.54 112.87,106.04 116.52,107.55 120,109 123.45,110.45 127.04,111.96 130.62,113.48 134.07,114.95 137.25,116.31 140,117.5 142.29,118.5 144.22,119.35 145.88,120.09 147.33,120.76 148.68,121.38 150,122 151.25,122.6 152.35,123.16 153.34,123.68 154.26,124.16 155.13,124.6 156,125 156.85,125.37 157.65,125.71 158.41,126.01 159.13,126.26 159.83,126.46 160.5,126.6 161.14,126.67 161.72,126.67 162.28,126.61 162.83,126.52 163.4,126.41 164,126.3 164.66,126.16 165.37,125.97 166.09,125.76 166.8,125.56 167.44,125.4 168,125.3 168.45,125.29 168.81,125.35 169.12,125.45 169.41,125.55 169.69,125.61 170,125.6 170.34,125.54 170.69,125.46 171.03,125.34 171.37,125.17 171.7,124.93 172,124.6 172.29,124.19 172.56,123.72 172.83,123.17 173.07,122.55 173.3,121.83 173.5,121 173.68,120.05 173.83,118.99 173.96,117.84 174.08,116.61 174.19,115.32 174.3,114 174.4,112.59 174.5,111.07 174.59,109.5 174.67,107.93 174.74,106.41 174.8,105 174.85,103.64 174.9,102.26 174.93,100.94 174.96,99.74 174.98,98.74 175,98"/>
<polyline fill="none" stroke="#a9082c" stroke-width="1.6" stroke-linejoin="round" points="62.5,98 63.29,98.29 64.35,98.68 65.62,99.15 67.04,99.67 68.52,100.23 70,100.8 71.41,101.35 72.78,101.88 74.22,102.44 75.83,103.09 77.73,103.86 80,104.8 82.75,105.95 85.93,107.29 89.38,108.76 92.96,110.29 96.55,111.82 100,113.3 103.33,114.73 106.67,116.17 110,117.62 113.33,119.07 116.67,120.53 120,122 123.45,123.54 127.04,125.15 130.62,126.78 134.07,128.34 137.25,129.77 140,131 142.27,132 144.15,132.83 145.75,133.52 147.19,134.13 148.56,134.71 150,135.3 151.47,135.91 152.9,136.5 154.26,137.05 155.57,137.56 156.82,138.01 158,138.4 159.11,138.73 160.16,139.01 161.14,139.24 162.07,139.4 162.95,139.49 163.8,139.5 164.61,139.43 165.36,139.29 166.08,139.07 166.75,138.78 167.39,138.42 168,138 168.58,137.51 169.13,136.94 169.64,136.31 170.12,135.61 170.57,134.84 171,134 171.4,133.08 171.78,132.09 172.12,131.03 172.44,129.91 172.74,128.73 173,127.5 173.23,126.23 173.42,124.91 173.59,123.53 173.73,122.09 173.87,120.58 174,119 174.13,117.3 174.24,115.48 174.34,113.59 174.43,111.69 174.52,109.8 174.6,108 174.68,106.16 174.76,104.22 174.84,102.31 174.9,100.56 174.96,99.08 175,98"/>
<polyline fill="none" stroke="#2e4c7e" stroke-width="1.6" stroke-linejoin="round" points="189.8,98.6 190.74,98.9 191.93,99.27 193.4,99.74 195.14,100.31 197.18,101.03 199.5,101.9 202.24,102.98 205.4,104.26 208.86,105.67 212.45,107.16 216.05,108.66 219.5,110.1 222.83,111.49 226.17,112.89 229.5,114.3 232.83,115.72 236.17,117.15 239.5,118.6 242.89,120.1 246.35,121.64 249.81,123.21 253.2,124.74 256.46,126.22 259.5,127.6 262.35,128.89 265.06,130.13 267.62,131.31 270.06,132.42 272.35,133.45 274.5,134.4 276.5,135.26 278.35,136.05 280.06,136.76 281.65,137.39 283.12,137.94 284.5,138.4 285.75,138.77 286.87,139.05 287.88,139.25 288.8,139.37 289.66,139.42 290.5,139.4 291.29,139.31 292.02,139.16 292.69,138.92 293.31,138.62 293.91,138.25 294.5,137.8 295.07,137.27 295.61,136.66 296.12,135.97 296.61,135.23 297.07,134.43 297.5,133.6 297.9,132.74 298.27,131.84 298.61,130.9 298.92,129.89 299.22,128.79 299.5,127.6 299.76,126.29 300.01,124.86 300.23,123.35 300.44,121.79 300.63,120.19 300.8,118.6 300.95,116.99 301.09,115.34 301.21,113.66 301.31,111.97 301.41,110.28 301.5,108.6 301.59,106.82 301.67,104.9 301.74,102.97 301.81,101.19 301.86,99.69 301.9,98.6"/>
<polyline fill="none" stroke="#a9082c" stroke-width="1.6" stroke-linejoin="round" points="190.3,98 191.24,98.3 192.43,98.67 193.9,99.14 195.64,99.71 197.68,100.43 200,101.3 202.74,102.38 205.9,103.66 209.36,105.07 212.95,106.56 216.55,108.06 220,109.5 223.33,110.89 226.67,112.29 230,113.7 233.33,115.12 236.67,116.55 240,118 243.39,119.5 246.85,121.04 250.31,122.61 253.7,124.14 256.96,125.62 260,127 262.85,128.29 265.56,129.53 268.12,130.71 270.56,131.82 272.85,132.85 275,133.8 277,134.66 278.85,135.45 280.56,136.16 282.15,136.79 283.62,137.34 285,137.8 286.25,138.17 287.37,138.45 288.38,138.65 289.3,138.77 290.16,138.82 291,138.8 291.79,138.71 292.52,138.56 293.19,138.32 293.81,138.02 294.41,137.65 295,137.2 295.57,136.67 296.11,136.06 296.62,135.38 297.11,134.63 297.57,133.83 298,133 298.4,132.14 298.77,131.24 299.11,130.3 299.42,129.29 299.72,128.19 300,127 300.26,125.69 300.51,124.26 300.73,122.75 300.94,121.19 301.13,119.59 301.3,118 301.45,116.39 301.59,114.74 301.71,113.06 301.81,111.37 301.91,109.68 302,108 302.09,106.22 302.17,104.3 302.24,102.38 302.31,100.59 302.36,99.09 302.4,98"/>
<text x="67.8" y="55.2" textLength="59.5" lengthAdjust="spacingAndGlyphs" font-size="10.2">Shaffer et al.</text>
<text x="67.8" y="67.6" textLength="107.5" lengthAdjust="spacingAndGlyphs" font-size="10.2">Irf4 targets in myeloma</text>
<text x="67.8" y="80.4" textLength="85.7" lengthAdjust="spacingAndGlyphs" font-size="10.2">vs. B lymphocytes</text>
<text x="195.5" y="55.6" textLength="90" lengthAdjust="spacingAndGlyphs" font-size="10.2">Schuhmacher et al.</text>
<text x="195.5" y="67.6" textLength="70" lengthAdjust="spacingAndGlyphs" font-size="10.2">Myc targets up</text>
<text x="119.4" y="175.4" text-anchor="middle" textLength="94.5" lengthAdjust="spacingAndGlyphs" font-size="10.6">Ranked order of GX</text>
<text x="246.9" y="175.4" text-anchor="middle" textLength="94.5" lengthAdjust="spacingAndGlyphs" font-size="10.6">Ranked order of GX</text>
<text transform="translate(35.8 97.5) rotate(-90)" text-anchor="middle" textLength="74.5" lengthAdjust="spacingAndGlyphs" font-size="12.2" stroke="#111" stroke-width="0.2">Enrichment score</text>
<line x1="444.55" y1="116.3" x2="444.55" y2="119.3" stroke="#000" stroke-width="1.4"/>
<line x1="436.79" y1="116.3" x2="452.31" y2="116.3" stroke="#000" stroke-width="1.4"/>
<rect x="430.7" y="118.3" width="27.7" height="22.2" fill="#a9082c"/>
<line x1="444.55" y1="140.5" x2="444.55" y2="145" stroke="#000" stroke-width="1.4"/>
<line x1="487.15" y1="118.3" x2="487.15" y2="121.8" stroke="#000" stroke-width="1.4"/>
<line x1="479.39" y1="118.3" x2="494.91" y2="118.3" stroke="#000" stroke-width="1.4"/>
<rect x="473.3" y="120.8" width="27.7" height="19.7" fill="#2e4c7e"/>
<line x1="487.15" y1="140.5" x2="487.15" y2="145" stroke="#000" stroke-width="1.4"/>
<line x1="423.1" y1="42.8" x2="423.1" y2="141.4" stroke="#000" stroke-width="1.8"/>
<line x1="422.2" y1="140.5" x2="508.6" y2="140.5" stroke="#000" stroke-width="1.8"/>
<line x1="418.1" y1="46.1" x2="423.1" y2="46.1" stroke="#000" stroke-width="1.5"/>
<text x="413.5" y="49.8" text-anchor="end" font-size="10.3">2</text>
<line x1="418.1" y1="69.65" x2="423.1" y2="69.65" stroke="#000" stroke-width="1.5"/>
<line x1="418.1" y1="93.2" x2="423.1" y2="93.2" stroke="#000" stroke-width="1.5"/>
<text x="413.5" y="96.9" text-anchor="end" font-size="10.3">1</text>
<line x1="418.1" y1="116.85" x2="423.1" y2="116.85" stroke="#000" stroke-width="1.5"/>
<line x1="418.1" y1="140.5" x2="423.1" y2="140.5" stroke="#000" stroke-width="1.5"/>
<text x="413.5" y="144.2" text-anchor="end" font-size="10.3">0</text>
<line x1="423.9" y1="93.2" x2="508.6" y2="93.2" stroke="#000" stroke-width="1.4" stroke-dasharray="1.5 1.15"/>
<line x1="444.55" y1="221.3" x2="444.55" y2="224.8" stroke="#000" stroke-width="1.4"/>
<line x1="436.79" y1="221.3" x2="452.31" y2="221.3" stroke="#000" stroke-width="1.4"/>
<rect x="430.7" y="223.8" width="27.7" height="29.4" fill="#a9082c"/>
<line x1="444.55" y1="253.2" x2="444.55" y2="257.7" stroke="#000" stroke-width="1.4"/>
<line x1="487.15" y1="220.6" x2="487.15" y2="224" stroke="#000" stroke-width="1.4"/>
<line x1="479.39" y1="220.6" x2="494.91" y2="220.6" stroke="#000" stroke-width="1.4"/>
<rect x="473.3" y="223" width="27.7" height="30.2" fill="#2e4c7e"/>
<line x1="487.15" y1="253.2" x2="487.15" y2="257.7" stroke="#000" stroke-width="1.4"/>
<line x1="423.1" y1="155" x2="423.1" y2="254.1" stroke="#000" stroke-width="1.8"/>
<line x1="422.2" y1="253.2" x2="508.6" y2="253.2" stroke="#000" stroke-width="1.8"/>
<line x1="418.1" y1="158.3" x2="423.1" y2="158.3" stroke="#000" stroke-width="1.5"/>
<text x="413.5" y="162" text-anchor="end" font-size="10.3">2</text>
<line x1="418.1" y1="182.1" x2="423.1" y2="182.1" stroke="#000" stroke-width="1.5"/>
<line x1="418.1" y1="205.9" x2="423.1" y2="205.9" stroke="#000" stroke-width="1.5"/>
<text x="413.5" y="209.6" text-anchor="end" font-size="10.3">1</text>
<line x1="418.1" y1="229.55" x2="423.1" y2="229.55" stroke="#000" stroke-width="1.5"/>
<line x1="418.1" y1="253.2" x2="423.1" y2="253.2" stroke="#000" stroke-width="1.5"/>
<text x="413.5" y="256.9" text-anchor="end" font-size="10.3">0</text>
<line x1="423.9" y1="205.9" x2="508.6" y2="205.9" stroke="#000" stroke-width="1.4" stroke-dasharray="1.5 1.15"/>
<text x="465.8" y="34.1" text-anchor="middle" font-style="italic" textLength="24" lengthAdjust="spacingAndGlyphs" font-size="10.4">IRF4</text>
<text x="439.4" y="272.2" text-anchor="middle" textLength="42.8" lengthAdjust="spacingAndGlyphs" font-size="11.8">shCD86</text>
<text x="488.2" y="272.2" text-anchor="middle" textLength="42.6" lengthAdjust="spacingAndGlyphs" font-size="11.8">shCD28</text>
<text transform="translate(399.2 91) rotate(-90)" text-anchor="middle" font-weight="bold" textLength="28.3" lengthAdjust="spacingAndGlyphs" font-size="13.6">MM.1s</text>
<text transform="translate(398.8 203.5) rotate(-90)" text-anchor="middle" textLength="21.5" lengthAdjust="spacingAndGlyphs" font-size="13.8" stroke="#111" stroke-width="0.3">8226</text>
<text transform="translate(381.3 153) rotate(-90)" text-anchor="middle" textLength="182" lengthAdjust="spacingAndGlyphs" font-size="14">mRNA Fold-change to pLK0.1</text>
<defs><filter id="bl" x="-5%" y="-50%" width="110%" height="200%"><feGaussianBlur stdDeviation="1.5 0.9"/></filter></defs>
<text x="185" y="216" text-anchor="middle" textLength="33" lengthAdjust="spacingAndGlyphs" font-size="11">MM.1s</text>
<line x1="60.6" y1="219" x2="308.5" y2="219" stroke="#000" stroke-width="1.5"/>
<line x1="60.6" y1="235.8" x2="308.5" y2="235.8" stroke="#000" stroke-width="1.5"/>
<line x1="142.6" y1="219" x2="142.6" y2="252.5" stroke="#000" stroke-width="1.5"/>
<line x1="224.3" y1="219" x2="224.3" y2="252.5" stroke="#000" stroke-width="1.5"/>
<text x="101.5" y="231.9" text-anchor="middle" textLength="27.3" lengthAdjust="spacingAndGlyphs" font-size="10.4">Day 2</text>
<text x="183.5" y="231.9" text-anchor="middle" textLength="27.3" lengthAdjust="spacingAndGlyphs" font-size="10.4">Day 3</text>
<text x="266.5" y="231.9" text-anchor="middle" textLength="27.3" lengthAdjust="spacingAndGlyphs" font-size="10.4">Day 4</text>
<text x="56.2" y="249.4" text-anchor="end" textLength="33" lengthAdjust="spacingAndGlyphs" font-size="10.2">shRNA</text>
<text x="75.4" y="247.7" text-anchor="middle" textLength="6.8" lengthAdjust="spacingAndGlyphs" font-size="6.5" stroke="#111" stroke-width="0.2">(-)</text>
<text x="102.3" y="248.6" text-anchor="middle" textLength="22.3" lengthAdjust="spacingAndGlyphs" font-size="8.2" stroke="#111" stroke-width="0.2">CD86</text>
<text x="128.2" y="248.6" text-anchor="middle" textLength="22.3" lengthAdjust="spacingAndGlyphs" font-size="8.2" stroke="#111" stroke-width="0.2">CD28</text>
<text x="155.2" y="247.7" text-anchor="middle" textLength="6.8" lengthAdjust="spacingAndGlyphs" font-size="6.5" stroke="#111" stroke-width="0.2">(-)</text>
<text x="183" y="248.6" text-anchor="middle" textLength="22.3" lengthAdjust="spacingAndGlyphs" font-size="8.2" stroke="#111" stroke-width="0.2">CD86</text>
<text x="208.8" y="248.6" text-anchor="middle" textLength="22.3" lengthAdjust="spacingAndGlyphs" font-size="8.2" stroke="#111" stroke-width="0.2">CD28</text>
<text x="237.2" y="247.7" text-anchor="middle" textLength="6.8" lengthAdjust="spacingAndGlyphs" font-size="6.5" stroke="#111" stroke-width="0.2">(-)</text>
<text x="264.4" y="248.6" text-anchor="middle" textLength="22.3" lengthAdjust="spacingAndGlyphs" font-size="8.2" stroke="#111" stroke-width="0.2">CD86</text>
<text x="289.8" y="248.6" text-anchor="middle" textLength="22.3" lengthAdjust="spacingAndGlyphs" font-size="8.2" stroke="#111" stroke-width="0.2">CD28</text>
<text x="56.2" y="265.5" text-anchor="end" textLength="22.6" lengthAdjust="spacingAndGlyphs" font-size="10.2">IRF4</text>
<text x="56" y="286.7" text-anchor="end" textLength="32.8" lengthAdjust="spacingAndGlyphs" font-size="10.2">β-Actin</text>
<clipPath id="c0a"><rect x="61" y="254" width="247" height="17"/></clipPath>
<clipPath id="c0b"><rect x="61" y="273.8" width="247" height="21.2"/></clipPath>
<rect x="61" y="254" width="247" height="17" fill="#d4d4d4"/>
<g clip-path="url(#c0a)" filter="url(#bl)">
<rect x="64" y="259.9" width="23" height="4" rx="2" fill="#3a3a3a"/>
<rect x="93" y="260.6" width="19" height="3.2" rx="1.6" fill="#777"/>
<rect x="118.2" y="259.9" width="21" height="4" rx="2" fill="#444"/>
<rect x="143.5" y="257.35" width="25" height="6.5" rx="3.25" fill="#111"/>
<rect x="176" y="261.1" width="18" height="2.6" rx="1.3" fill="#999"/>
<rect x="201" y="263.15" width="20" height="3.5" rx="1.75" fill="#777"/>
<rect x="227.5" y="261.1" width="24" height="6" rx="3" fill="#0c0c0c"/>
<rect x="256.5" y="262.8" width="18" height="2.2" rx="1.1" fill="#aaa"/>
<rect x="282" y="260.9" width="19" height="3" rx="1.5" fill="#909090"/>
</g>
<rect x="61" y="254" width="247" height="17" fill="none" stroke="#111" stroke-width="1.5"/>
<rect x="61" y="273.8" width="247" height="21.2" fill="#a9a9a9"/>
<g clip-path="url(#c0b)" filter="url(#bl)">
<rect x="63" y="280.6" width="25" height="7" rx="3.5" fill="#111"/>
<rect x="90.5" y="280.6" width="24" height="7" rx="3.5" fill="#111"/>
<rect x="116.2" y="280.4" width="25" height="7.4" rx="3.7" fill="#111"/>
<rect x="143" y="278.8" width="26" height="8.6" rx="4.3" fill="#0a0a0a"/>
<rect x="172.5" y="280.1" width="25" height="8" rx="4" fill="#0c0c0c"/>
<rect x="199" y="280.3" width="24" height="7.6" rx="3.8" fill="#111"/>
<rect x="226.5" y="280.1" width="26" height="8" rx="4" fill="#0c0c0c"/>
<rect x="253" y="280.4" width="25" height="7.4" rx="3.7" fill="#111"/>
<rect x="279" y="278.3" width="25" height="8" rx="4" fill="#111"/>
</g>
<rect x="61" y="273.8" width="247" height="21.2" fill="none" stroke="#111" stroke-width="1.5"/>
<line x1="308.5" y1="261.2" x2="317.2" y2="261.2" stroke="#000" stroke-width="1.7"/>
<text x="322" y="264.2" font-weight="bold" textLength="27.3" lengthAdjust="spacingAndGlyphs" font-size="8.2">50 KDa</text>
<line x1="308.5" y1="275.6" x2="317.2" y2="275.6" stroke="#000" stroke-width="1.7"/>
<text x="322" y="278.6" font-weight="bold" textLength="27.3" lengthAdjust="spacingAndGlyphs" font-size="8.2">50 KDa</text>
<line x1="308.5" y1="290.6" x2="317.2" y2="290.6" stroke="#000" stroke-width="1.7"/>
<text x="322" y="293.6" font-weight="bold" textLength="27.3" lengthAdjust="spacingAndGlyphs" font-size="8.2">37 KDa</text>
<text x="185" y="323" text-anchor="middle" textLength="25.4" lengthAdjust="spacingAndGlyphs" font-size="11">8226</text>
<line x1="60.6" y1="326" x2="308.5" y2="326" stroke="#000" stroke-width="1.5"/>
<line x1="60.6" y1="342.8" x2="308.5" y2="342.8" stroke="#000" stroke-width="1.5"/>
<line x1="142.6" y1="326" x2="142.6" y2="359.5" stroke="#000" stroke-width="1.5"/>
<line x1="224.3" y1="326" x2="224.3" y2="359.5" stroke="#000" stroke-width="1.5"/>
<text x="101.5" y="338.9" text-anchor="middle" textLength="27.3" lengthAdjust="spacingAndGlyphs" font-size="10.4">Day 2</text>
<text x="183.5" y="338.9" text-anchor="middle" textLength="27.3" lengthAdjust="spacingAndGlyphs" font-size="10.4">Day 3</text>
<text x="266.5" y="338.9" text-anchor="middle" textLength="27.3" lengthAdjust="spacingAndGlyphs" font-size="10.4">Day 4</text>
<text x="56.2" y="356.4" text-anchor="end" textLength="33" lengthAdjust="spacingAndGlyphs" font-size="10.2">shRNA</text>
<text x="75.4" y="354.7" text-anchor="middle" textLength="6.8" lengthAdjust="spacingAndGlyphs" font-size="6.5" stroke="#111" stroke-width="0.2">(-)</text>
<text x="102.3" y="355.6" text-anchor="middle" textLength="22.3" lengthAdjust="spacingAndGlyphs" font-size="8.2" stroke="#111" stroke-width="0.2">CD86</text>
<text x="128.2" y="355.6" text-anchor="middle" textLength="22.3" lengthAdjust="spacingAndGlyphs" font-size="8.2" stroke="#111" stroke-width="0.2">CD28</text>
<text x="155.2" y="354.7" text-anchor="middle" textLength="6.8" lengthAdjust="spacingAndGlyphs" font-size="6.5" stroke="#111" stroke-width="0.2">(-)</text>
<text x="183" y="355.6" text-anchor="middle" textLength="22.3" lengthAdjust="spacingAndGlyphs" font-size="8.2" stroke="#111" stroke-width="0.2">CD86</text>
<text x="208.8" y="355.6" text-anchor="middle" textLength="22.3" lengthAdjust="spacingAndGlyphs" font-size="8.2" stroke="#111" stroke-width="0.2">CD28</text>
<text x="237.2" y="354.7" text-anchor="middle" textLength="6.8" lengthAdjust="spacingAndGlyphs" font-size="6.5" stroke="#111" stroke-width="0.2">(-)</text>
<text x="264.4" y="355.6" text-anchor="middle" textLength="22.3" lengthAdjust="spacingAndGlyphs" font-size="8.2" stroke="#111" stroke-width="0.2">CD86</text>
<text x="289.8" y="355.6" text-anchor="middle" textLength="22.3" lengthAdjust="spacingAndGlyphs" font-size="8.2" stroke="#111" stroke-width="0.2">CD28</text>
<text x="56.2" y="371.9" text-anchor="end" textLength="22.6" lengthAdjust="spacingAndGlyphs" font-size="10.2">IRF4</text>
<text x="56" y="392.6" text-anchor="end" textLength="32.8" lengthAdjust="spacingAndGlyphs" font-size="10.2">β-Actin</text>
<clipPath id="c107a"><rect x="61" y="360.4" width="247" height="17"/></clipPath>
<clipPath id="c107b"><rect x="61" y="380.2" width="247" height="18.2"/></clipPath>
<rect x="61" y="360.4" width="247" height="17" fill="#b9b9b9"/>
<g clip-path="url(#c107a)" filter="url(#bl)">
<rect x="68" y="364.8" width="21" height="6" rx="3" fill="#2c2c2c"/>
<rect x="94.4" y="364.9" width="20" height="6.4" rx="3.2" fill="#2a2a2a"/>
<rect x="121.5" y="365.6" width="18" height="5.4" rx="2.7" fill="#3a3a3a"/>
<rect x="147.5" y="365.2" width="19" height="5.2" rx="2.6" fill="#404040"/>
<rect x="174.5" y="366.1" width="20" height="5.8" rx="2.9" fill="#333"/>
<rect x="202.5" y="367.3" width="19" height="5" rx="2.5" fill="#4a4a4a"/>
<rect x="230" y="365.6" width="22" height="6.4" rx="3.2" fill="#262626"/>
<rect x="258.5" y="367.3" width="17" height="4.6" rx="2.3" fill="#4a4a4a"/>
<rect x="283.1" y="368.3" width="17" height="4.2" rx="2.1" fill="#5a5a5a"/>
</g>
<rect x="61" y="360.4" width="247" height="17" fill="none" stroke="#111" stroke-width="1.5"/>
<rect x="61" y="380.2" width="247" height="18.2" fill="#a4a4a4"/>
<g clip-path="url(#c107b)" filter="url(#bl)">
<rect x="66.5" y="386" width="24" height="7" rx="3.5" fill="#111"/>
<rect x="92.4" y="385.7" width="24" height="7.6" rx="3.8" fill="#0c0c0c"/>
<rect x="119" y="386" width="23" height="7" rx="3.5" fill="#111"/>
<rect x="145.5" y="385.2" width="23" height="6.6" rx="3.3" fill="#111"/>
<rect x="173" y="386" width="23" height="7" rx="3.5" fill="#111"/>
<rect x="201" y="386.8" width="22" height="6.4" rx="3.2" fill="#151515"/>
<rect x="228.5" y="386.7" width="25" height="7.6" rx="3.8" fill="#0c0c0c"/>
<rect x="255.5" y="386.8" width="23" height="7" rx="3.5" fill="#111"/>
<rect x="279.6" y="386.8" width="24" height="7.4" rx="3.7" fill="#111"/>
</g>
<rect x="61" y="380.2" width="247" height="18.2" fill="none" stroke="#111" stroke-width="1.5"/>
<line x1="308.5" y1="370.5" x2="317.2" y2="370.5" stroke="#000" stroke-width="1.7"/>
<text x="322" y="373.5" font-weight="bold" textLength="27.3" lengthAdjust="spacingAndGlyphs" font-size="8.2">50 KDa</text>
<line x1="308.5" y1="382.2" x2="317.2" y2="382.2" stroke="#000" stroke-width="1.7"/>
<text x="322" y="385.2" font-weight="bold" textLength="27.3" lengthAdjust="spacingAndGlyphs" font-size="8.2">50 KDa</text>
<line x1="308.5" y1="397" x2="317.2" y2="397" stroke="#000" stroke-width="1.7"/>
<text x="322" y="400" font-weight="bold" textLength="27.3" lengthAdjust="spacingAndGlyphs" font-size="8.2">37 KDa</text>
<line x1="84.65" y1="511" x2="84.65" y2="513.3" stroke="#000" stroke-width="1.4"/>
<line x1="76.84" y1="511" x2="92.46" y2="511" stroke="#000" stroke-width="1.4"/>
<rect x="70.7" y="512.3" width="27.9" height="33.9" fill="#a9082c"/>
<line x1="84.65" y1="546.2" x2="84.65" y2="550.7" stroke="#000" stroke-width="1.4"/>
<line x1="126" y1="517.2" x2="126" y2="520.5" stroke="#000" stroke-width="1.4"/>
<line x1="118.16" y1="517.2" x2="133.84" y2="517.2" stroke="#000" stroke-width="1.4"/>
<rect x="112" y="519.5" width="28" height="26.7" fill="#2e4c7e"/>
<line x1="126" y1="546.2" x2="126" y2="550.7" stroke="#000" stroke-width="1.4"/>
<line x1="64.4" y1="462" x2="64.4" y2="547.1" stroke="#000" stroke-width="1.8"/>
<line x1="63.5" y1="546.2" x2="146" y2="546.2" stroke="#000" stroke-width="1.8"/>
<line x1="60" y1="465.3" x2="64.4" y2="465.3" stroke="#000" stroke-width="1.5"/>
<text x="54.4" y="469" text-anchor="end" font-size="10.3">2</text>
<line x1="60" y1="485.65" x2="64.4" y2="485.65" stroke="#000" stroke-width="1.5"/>
<line x1="60" y1="506" x2="64.4" y2="506" stroke="#000" stroke-width="1.5"/>
<text x="54.4" y="509.7" text-anchor="end" font-size="10.3">1</text>
<line x1="60" y1="526.1" x2="64.4" y2="526.1" stroke="#000" stroke-width="1.5"/>
<line x1="60" y1="546.2" x2="64.4" y2="546.2" stroke="#000" stroke-width="1.5"/>
<text x="54.4" y="549.9" text-anchor="end" font-size="10.3">0</text>
<line x1="65.2" y1="506" x2="146" y2="506" stroke="#000" stroke-width="1.4" stroke-dasharray="3.2 1.6"/>
<line x1="180" y1="509.4" x2="180" y2="514.2" stroke="#000" stroke-width="1.4"/>
<line x1="172.16" y1="509.4" x2="187.84" y2="509.4" stroke="#000" stroke-width="1.4"/>
<rect x="166" y="513.2" width="28" height="33" fill="#a9082c"/>
<line x1="180" y1="546.2" x2="180" y2="550.7" stroke="#000" stroke-width="1.4"/>
<line x1="221" y1="480.6" x2="221" y2="494.5" stroke="#000" stroke-width="1.4"/>
<line x1="213.33" y1="480.6" x2="228.67" y2="480.6" stroke="#000" stroke-width="1.4"/>
<rect x="207.3" y="493.5" width="27.4" height="52.7" fill="#2e4c7e"/>
<line x1="221" y1="546.2" x2="221" y2="550.7" stroke="#000" stroke-width="1.4"/>
<line x1="160" y1="462" x2="160" y2="547.1" stroke="#000" stroke-width="1.8"/>
<line x1="159.1" y1="546.2" x2="241" y2="546.2" stroke="#000" stroke-width="1.8"/>
<line x1="155.6" y1="465.3" x2="160" y2="465.3" stroke="#000" stroke-width="1.5"/>
<line x1="155.6" y1="485.65" x2="160" y2="485.65" stroke="#000" stroke-width="1.5"/>
<line x1="155.6" y1="506" x2="160" y2="506" stroke="#000" stroke-width="1.5"/>
<line x1="155.6" y1="526.1" x2="160" y2="526.1" stroke="#000" stroke-width="1.5"/>
<line x1="155.6" y1="546.2" x2="160" y2="546.2" stroke="#000" stroke-width="1.5"/>
<line x1="160.8" y1="506" x2="241" y2="506" stroke="#000" stroke-width="1.4" stroke-dasharray="3.2 1.6"/>
<line x1="84.65" y1="614.7" x2="84.65" y2="620" stroke="#000" stroke-width="1.4"/>
<line x1="76.84" y1="614.7" x2="92.46" y2="614.7" stroke="#000" stroke-width="1.4"/>
<rect x="70.7" y="619" width="27.9" height="30.3" fill="#a9082c"/>
<line x1="84.65" y1="649.3" x2="84.65" y2="653.8" stroke="#000" stroke-width="1.4"/>
<line x1="126" y1="616" x2="126" y2="621.8" stroke="#000" stroke-width="1.4"/>
<line x1="118.16" y1="616" x2="133.84" y2="616" stroke="#000" stroke-width="1.4"/>
<rect x="112" y="620.8" width="28" height="28.5" fill="#2e4c7e"/>
<line x1="126" y1="649.3" x2="126" y2="653.8" stroke="#000" stroke-width="1.4"/>
<line x1="64.4" y1="564.7" x2="64.4" y2="650.2" stroke="#000" stroke-width="1.8"/>
<line x1="63.5" y1="649.3" x2="146" y2="649.3" stroke="#000" stroke-width="1.8"/>
<line x1="60" y1="568" x2="64.4" y2="568" stroke="#000" stroke-width="1.5"/>
<text x="54.4" y="571.7" text-anchor="end" font-size="10.3">2</text>
<line x1="60" y1="588.5" x2="64.4" y2="588.5" stroke="#000" stroke-width="1.5"/>
<line x1="60" y1="609" x2="64.4" y2="609" stroke="#000" stroke-width="1.5"/>
<text x="54.4" y="612.7" text-anchor="end" font-size="10.3">1</text>
<line x1="60" y1="629.15" x2="64.4" y2="629.15" stroke="#000" stroke-width="1.5"/>
<line x1="60" y1="649.3" x2="64.4" y2="649.3" stroke="#000" stroke-width="1.5"/>
<text x="54.4" y="653" text-anchor="end" font-size="10.3">0</text>
<line x1="65.2" y1="609" x2="146" y2="609" stroke="#000" stroke-width="1.4" stroke-dasharray="3.2 1.6"/>
<line x1="180" y1="624.2" x2="180" y2="626.7" stroke="#000" stroke-width="1.4"/>
<line x1="172.16" y1="624.2" x2="187.84" y2="624.2" stroke="#000" stroke-width="1.4"/>
<rect x="166" y="625.7" width="28" height="23.6" fill="#a9082c"/>
<line x1="180" y1="649.3" x2="180" y2="653.8" stroke="#000" stroke-width="1.4"/>
<line x1="221" y1="596.8" x2="221" y2="603.6" stroke="#000" stroke-width="1.4"/>
<line x1="213.33" y1="596.8" x2="228.67" y2="596.8" stroke="#000" stroke-width="1.4"/>
<rect x="207.3" y="602.6" width="27.4" height="46.7" fill="#2e4c7e"/>
<line x1="221" y1="649.3" x2="221" y2="653.8" stroke="#000" stroke-width="1.4"/>
<line x1="160" y1="564.7" x2="160" y2="650.2" stroke="#000" stroke-width="1.8"/>
<line x1="159.1" y1="649.3" x2="241" y2="649.3" stroke="#000" stroke-width="1.8"/>
<line x1="155.6" y1="568" x2="160" y2="568" stroke="#000" stroke-width="1.5"/>
<line x1="155.6" y1="588.5" x2="160" y2="588.5" stroke="#000" stroke-width="1.5"/>
<line x1="155.6" y1="609" x2="160" y2="609" stroke="#000" stroke-width="1.5"/>
<line x1="155.6" y1="629.15" x2="160" y2="629.15" stroke="#000" stroke-width="1.5"/>
<line x1="155.6" y1="649.3" x2="160" y2="649.3" stroke="#000" stroke-width="1.5"/>
<line x1="160.8" y1="609" x2="241" y2="609" stroke="#000" stroke-width="1.4" stroke-dasharray="3.2 1.6"/>
<text x="105.3" y="458.1" text-anchor="middle" font-style="italic" textLength="32" lengthAdjust="spacingAndGlyphs" font-size="10.4">ITGB7</text>
<text x="201" y="458.1" text-anchor="middle" font-style="italic" textLength="32" lengthAdjust="spacingAndGlyphs" font-size="10.4">ITGB1</text>
<text transform="translate(42.3 503.6) rotate(-90)" text-anchor="middle" font-weight="bold" textLength="28.3" lengthAdjust="spacingAndGlyphs" font-size="13.6">MM.1s</text>
<text transform="translate(42.6 606.4) rotate(-90)" text-anchor="middle" textLength="21" lengthAdjust="spacingAndGlyphs" font-size="13.8" stroke="#111" stroke-width="0.3">8226</text>
<text transform="translate(22.7 555.3) rotate(-90)" text-anchor="middle" textLength="181" lengthAdjust="spacingAndGlyphs" font-size="14">mRNA Fold-change to pLKO.1</text>
<text transform="translate(92.5 663.3) rotate(-45)" text-anchor="end" textLength="44.5" lengthAdjust="spacingAndGlyphs" font-size="11.6" stroke="#111" stroke-width="0.2">shCD86</text>
<text transform="translate(133.5 663.3) rotate(-45)" text-anchor="end" textLength="44.5" lengthAdjust="spacingAndGlyphs" font-size="11.6" stroke="#111" stroke-width="0.2">shCD28</text>
<text transform="translate(187.6 663.3) rotate(-45)" text-anchor="end" textLength="44.5" lengthAdjust="spacingAndGlyphs" font-size="11.6" stroke="#111" stroke-width="0.2">shCD86</text>
<text transform="translate(228.2 663.3) rotate(-45)" text-anchor="end" textLength="44.5" lengthAdjust="spacingAndGlyphs" font-size="11.6" stroke="#111" stroke-width="0.2">shCD28</text>
<polyline fill="none" stroke="#c9c9c9" stroke-width="1.2" stroke-linejoin="round" points="276,546.29 276.8,546.28 277.6,546.24 278.4,546.16 279.2,545.96 280,545.56 280.8,544.74 281.6,543.25 282.4,541.03 283.2,537.31 284,530.85 284.8,523.66 285.6,513.28 286.4,504.83 287.2,492.37 288,481.34 288.8,477.18 289.6,470.22 290.4,472.13 291.2,482.5 292,490.84 292.8,498.86 293.6,508.46 294.4,519.9 295.2,528.39 296,534.49 296.8,539.31 297.6,542.21 298.4,544.04 299.2,545.13 300,545.75 300.8,546.05 301.6,546.19 302.4,546.26 303.2,546.28 304,546.29 304.8,546.3 305.6,546.3 306.4,546.3 307.2,546.3 308,546.3 308.8,546.3 309.6,546.3 310.4,546.3 311.2,546.3 312,546.3 312.8,546.3 313.6,546.3"/>
<polyline fill="none" stroke="#c9c9c9" stroke-width="1.2" stroke-linejoin="round" points="276,546.29 276.8,546.27 277.6,546.22 278.4,546.12 279.2,545.88 280,545.43 280.8,544.61 281.6,543.28 282.4,540.86 283.2,537.28 284,532.19 284.8,526.24 285.6,517.35 286.4,507.99 287.2,496.56 288,485.59 288.8,478.31 289.6,476.75 290.4,476.94 291.2,481.22 292,488.69 292.8,496.77 293.6,503.99 294.4,513.99 295.2,522.38 296,528.73 296.8,535.07 297.6,539.21 298.4,542.2 299.2,544.03 300,545.04 300.8,545.67 301.6,545.98 302.4,546.15 303.2,546.24 304,546.27 304.8,546.29 305.6,546.3 306.4,546.3 307.2,546.3 308,546.3 308.8,546.3 309.6,546.3 310.4,546.3 311.2,546.3 312,546.3 312.8,546.3 313.6,546.3"/>
<polyline fill="none" stroke="#b5112f" stroke-width="1.5" stroke-linejoin="round" points="282,546.29 282.8,546.29 283.6,546.28 284.4,546.26 285.2,546.24 286,546.21 286.8,546.17 287.6,546.07 288.4,546 289.2,545.88 290,545.62 290.8,545.46 291.6,545.09 292.4,544.82 293.2,544.35 294,544.08 294.8,543.29 295.6,542.51 296.4,542.1 297.2,541.22 298,540.59 298.8,540.66 299.6,539.13 300.4,538.77 301.2,538.74 302,538.82 302.8,537.14 303.6,537.61 304.4,537.01 305.2,536.58 306,536.71 306.8,536.08 307.6,536.7 308.4,535.31 309.2,535.24 310,532.82 310.8,531.1 311.6,531.16 312.4,528.29 313.2,524.67 314,517.01 314.8,515.98 315.6,511.12 316.4,510.6 317.2,507.29 318,507.82 318.8,508.96 319.6,509.21 320.4,512.27 321.2,514.16 322,519.78 322.8,523.16 323.6,527.9 324.4,531.59 325.2,535.85 326,539.42 326.8,540.71 327.6,542.4 328.4,543.75 329.2,544.77 330,545.33 330.8,545.77 331.6,545.95 332.4,546.12 333.2,546.21 334,546.25 334.8,546.27 335.6,546.29 336.4,546.29 337.2,546.3 338,546.3 338.8,546.3 339.6,546.3 340.4,546.3 341.2,546.3 342,546.3 342.8,546.3 343.6,546.3 344.4,546.3 345.2,546.3 346,546.3 346.8,546.3 347.6,546.3 348.4,546.3 349.2,546.3 350,546.3 350.8,546.3 351.6,546.3 352.4,546.3 353.2,546.3 354,546.3 354.8,546.3 355.6,546.3 356.4,546.3 357.2,546.3 358,546.3 358.8,546.3 359.6,546.3 360.4,546.3 361.2,546.3 362,546.3 362.8,546.3 363.6,546.3 364.4,546.3 365.2,546.3 366,546.3 366.8,546.3 367.6,546.3 368.4,546.3 369.2,546.3 370,546.3 370.8,546.3 371.6,546.3 372.4,546.3 373.2,546.3 374,546.3 374.8,546.3 375.6,546.3 376.4,546.3 377.2,546.3 378,546.3 378.8,546.3 379.6,546.3 380.4,546.3 381.2,546.3 382,546.3 382.8,546.3 383.6,546.3 384.4,546.3 385.2,546.3"/>
<polyline fill="none" stroke="#66ad3c" stroke-width="1.6" stroke-linejoin="round" points="282,546.3 282.8,546.3 283.6,546.3 284.4,546.3 285.2,546.3 286,546.3 286.8,546.3 287.6,546.3 288.4,546.3 289.2,546.3 290,546.3 290.8,546.3 291.6,546.29 292.4,546.29 293.2,546.28 294,546.27 294.8,546.26 295.6,546.24 296.4,546.2 297.2,546.17 298,546.1 298.8,546.03 299.6,545.92 300.4,545.81 301.2,545.66 302,545.38 302.8,545.1 303.6,544.82 304.4,544.5 305.2,544 306,543.27 306.8,542.71 307.6,541.54 308.4,540.75 309.2,539.9 310,538.17 310.8,536.92 311.6,534.38 312.4,532.25 313.2,530.54 314,527.64 314.8,524.59 315.6,521.1 316.4,517.08 317.2,516.91 318,512.1 318.8,507.41 319.6,505.29 320.4,500.44 321.2,500.25 322,492.91 322.8,493.02 323.6,494.29 324.4,490.03 325.2,492.64 326,495.75 326.8,498.42 327.6,506.14 328.4,512.38 329.2,516.91 330,524.21 330.8,531.41 331.6,534.83 332.4,539.29 333.2,541.62 334,543.22 334.8,544.55 335.6,545.35 336.4,545.79 337.2,546.04 338,546.17 338.8,546.23 339.6,546.27 340.4,546.29 341.2,546.29 342,546.3 342.8,546.3 343.6,546.3 344.4,546.3 345.2,546.3 346,546.3 346.8,546.3 347.6,546.3 348.4,546.3 349.2,546.3 350,546.3 350.8,546.3 351.6,546.3 352.4,546.3 353.2,546.3 354,546.3 354.8,546.3 355.6,546.3 356.4,546.3 357.2,546.3 358,546.3 358.8,546.3 359.6,546.3 360.4,546.3 361.2,546.3 362,546.3 362.8,546.3 363.6,546.3 364.4,546.3 365.2,546.3 366,546.3 366.8,546.3 367.6,546.3 368.4,546.3 369.2,546.3 370,546.3 370.8,546.3 371.6,546.3 372.4,546.3 373.2,546.3 374,546.3 374.8,546.3 375.6,546.3 376.4,546.3 377.2,546.3 378,546.3 378.8,546.3 379.6,546.3 380.4,546.3 381.2,546.3 382,546.3 382.8,546.3 383.6,546.3 384.4,546.3 385.2,546.3"/>
<polyline fill="none" stroke="#1f4a78" stroke-width="1.5" stroke-linejoin="round" points="282,546.3 282.8,546.3 283.6,546.3 284.4,546.3 285.2,546.3 286,546.3 286.8,546.3 287.6,546.3 288.4,546.3 289.2,546.3 290,546.29 290.8,546.29 291.6,546.29 292.4,546.28 293.2,546.27 294,546.25 294.8,546.24 295.6,546.21 296.4,546.16 297.2,546.09 298,546.01 298.8,545.94 299.6,545.76 300.4,545.65 301.2,545.38 302,545.2 302.8,544.91 303.6,544.26 304.4,543.99 305.2,543.4 306,542.23 306.8,541.35 307.6,540.75 308.4,538.75 309.2,537.68 310,535.62 310.8,534.37 311.6,530.24 312.4,527.93 313.2,523.75 314,520.33 314.8,519.06 315.6,514.98 316.4,512.21 317.2,508.61 318,505.62 318.8,500.66 319.6,495.41 320.4,498.12 321.2,490.93 322,493.24 322.8,493.97 323.6,492.18 324.4,499.21 325.2,505.88 326,511.12 326.8,516.63 327.6,525.42 328.4,528.12 329.2,535.02 330,537.49 330.8,540.34 331.6,542.96 332.4,543.97 333.2,545.01 334,545.54 334.8,545.92 335.6,546.1 336.4,546.2 337.2,546.24 338,546.28 338.8,546.29 339.6,546.29 340.4,546.3 341.2,546.3 342,546.3 342.8,546.3 343.6,546.3 344.4,546.3 345.2,546.3 346,546.3 346.8,546.3 347.6,546.3 348.4,546.3 349.2,546.3 350,546.3 350.8,546.3 351.6,546.3 352.4,546.3 353.2,546.3 354,546.3 354.8,546.3 355.6,546.3 356.4,546.3 357.2,546.3 358,546.3 358.8,546.3 359.6,546.3 360.4,546.3 361.2,546.3 362,546.3 362.8,546.3 363.6,546.3 364.4,546.3 365.2,546.3 366,546.3 366.8,546.3 367.6,546.3 368.4,546.3 369.2,546.3 370,546.3 370.8,546.3 371.6,546.3 372.4,546.3 373.2,546.3 374,546.3 374.8,546.3 375.6,546.3 376.4,546.3 377.2,546.3 378,546.3 378.8,546.3 379.6,546.3 380.4,546.3 381.2,546.3 382,546.3 382.8,546.3 383.6,546.3 384.4,546.3 385.2,546.3"/>
<polyline fill="none" stroke="#44575c" stroke-width="1.6" stroke-linejoin="round" points="282,546.3 282.8,546.3 283.6,546.3 284.4,546.3 285.2,546.3 286,546.3 286.8,546.3 287.6,546.3 288.4,546.3 289.2,546.3 290,546.3 290.8,546.29 291.6,546.29 292.4,546.29 293.2,546.28 294,546.26 294.8,546.24 295.6,546.22 296.4,546.18 297.2,546.14 298,546.07 298.8,545.97 299.6,545.84 300.4,545.67 301.2,545.45 302,545.29 302.8,544.9 303.6,544.49 304.4,544.04 305.2,543.56 306,542.75 306.8,542.11 307.6,540.59 308.4,539.38 309.2,538.2 310,536.81 310.8,534.07 311.6,532.28 312.4,529.1 313.2,526.2 314,523.84 314.8,520.74 315.6,516.51 316.4,513.36 317.2,510.74 318,506.36 318.8,500.06 319.6,500.96 320.4,498.12 321.2,492.11 322,492.61 322.8,489.92 323.6,490.17 324.4,492.64 325.2,492.44 326,502.74 326.8,508.23 327.6,516.09 328.4,521.5 329.2,528.59 330,533.55 330.8,537.19 331.6,540.65 332.4,542.67 333.2,544.04 334,545.13 334.8,545.66 335.6,545.96 336.4,546.12 337.2,546.21 338,546.26 338.8,546.28 339.6,546.29 340.4,546.3 341.2,546.3 342,546.3 342.8,546.3 343.6,546.3 344.4,546.3 345.2,546.3 346,546.3 346.8,546.3 347.6,546.3 348.4,546.3 349.2,546.3 350,546.3 350.8,546.3 351.6,546.3 352.4,546.3 353.2,546.3 354,546.3 354.8,546.3 355.6,546.3 356.4,546.3 357.2,546.3 358,546.3 358.8,546.3 359.6,546.3 360.4,546.3 361.2,546.3 362,546.3 362.8,546.3 363.6,546.3 364.4,546.3 365.2,546.3 366,546.3 366.8,546.3 367.6,546.3 368.4,546.3 369.2,546.3 370,546.3 370.8,546.3 371.6,546.3 372.4,546.3 373.2,546.3 374,546.3 374.8,546.3 375.6,546.3 376.4,546.3 377.2,546.3 378,546.3 378.8,546.3 379.6,546.3 380.4,546.3 381.2,546.3 382,546.3 382.8,546.3 383.6,546.3 384.4,546.3 385.2,546.3"/>
<line x1="274" y1="465.2" x2="274" y2="547.3" stroke="#000" stroke-width="2.1"/>
<line x1="270" y1="466.2" x2="387.9" y2="466.2" stroke="#000" stroke-width="2.1"/>
<line x1="387" y1="465.2" x2="387" y2="547.3" stroke="#000" stroke-width="1.9"/>
<line x1="270" y1="546.3" x2="387.9" y2="546.3" stroke="#000" stroke-width="2"/>
<line x1="271.5" y1="543.1" x2="274" y2="543.1" stroke="#000" stroke-width="1.2"/>
<line x1="271.5" y1="539.89" x2="274" y2="539.89" stroke="#000" stroke-width="1.2"/>
<line x1="271.5" y1="536.69" x2="274" y2="536.69" stroke="#000" stroke-width="1.2"/>
<line x1="271.5" y1="533.48" x2="274" y2="533.48" stroke="#000" stroke-width="1.2"/>
<line x1="270.4" y1="530.28" x2="274" y2="530.28" stroke="#000" stroke-width="1.2"/>
<line x1="271.5" y1="527.08" x2="274" y2="527.08" stroke="#000" stroke-width="1.2"/>
<line x1="271.5" y1="523.87" x2="274" y2="523.87" stroke="#000" stroke-width="1.2"/>
<line x1="271.5" y1="520.67" x2="274" y2="520.67" stroke="#000" stroke-width="1.2"/>
<line x1="271.5" y1="517.46" x2="274" y2="517.46" stroke="#000" stroke-width="1.2"/>
<line x1="270.4" y1="514.26" x2="274" y2="514.26" stroke="#000" stroke-width="1.2"/>
<line x1="271.5" y1="511.06" x2="274" y2="511.06" stroke="#000" stroke-width="1.2"/>
<line x1="271.5" y1="507.85" x2="274" y2="507.85" stroke="#000" stroke-width="1.2"/>
<line x1="271.5" y1="504.65" x2="274" y2="504.65" stroke="#000" stroke-width="1.2"/>
<line x1="271.5" y1="501.44" x2="274" y2="501.44" stroke="#000" stroke-width="1.2"/>
<line x1="270.4" y1="498.24" x2="274" y2="498.24" stroke="#000" stroke-width="1.2"/>
<line x1="271.5" y1="495.04" x2="274" y2="495.04" stroke="#000" stroke-width="1.2"/>
<line x1="271.5" y1="491.83" x2="274" y2="491.83" stroke="#000" stroke-width="1.2"/>
<line x1="271.5" y1="488.63" x2="274" y2="488.63" stroke="#000" stroke-width="1.2"/>
<line x1="271.5" y1="485.42" x2="274" y2="485.42" stroke="#000" stroke-width="1.2"/>
<line x1="270.4" y1="482.22" x2="274" y2="482.22" stroke="#000" stroke-width="1.2"/>
<line x1="271.5" y1="479.02" x2="274" y2="479.02" stroke="#000" stroke-width="1.2"/>
<line x1="271.5" y1="475.81" x2="274" y2="475.81" stroke="#000" stroke-width="1.2"/>
<line x1="271.5" y1="472.61" x2="274" y2="472.61" stroke="#000" stroke-width="1.2"/>
<line x1="271.5" y1="469.4" x2="274" y2="469.4" stroke="#000" stroke-width="1.2"/>
<rect x="275.5" y="546.3" width="3.2" height="3.8" fill="#000" opacity="0.9"/>
<rect x="279.2" y="546.3" width="3.2" height="3.8" fill="#000" opacity="0.9"/>
<rect x="282.9" y="546.3" width="4.4" height="3.8" fill="#000" opacity="0.9"/>
<rect x="291.6" y="546.3" width="5.4" height="3.2" fill="#000" opacity="0.85"/>
<line x1="298.3" y1="546.3" x2="298.3" y2="550.7" stroke="#000" stroke-width="1.4"/>
<line x1="311.88" y1="546.3" x2="311.88" y2="549.5" stroke="#000" stroke-width="1.1"/>
<line x1="315.26" y1="546.3" x2="315.26" y2="549.5" stroke="#000" stroke-width="1.1"/>
<line x1="317.87" y1="546.3" x2="317.87" y2="549.5" stroke="#000" stroke-width="1.1"/>
<line x1="320.01" y1="546.3" x2="320.01" y2="549.5" stroke="#000" stroke-width="1.1"/>
<line x1="321.82" y1="546.3" x2="321.82" y2="549.5" stroke="#000" stroke-width="1.1"/>
<line x1="323.38" y1="546.3" x2="323.38" y2="549.5" stroke="#000" stroke-width="1.1"/>
<line x1="324.76" y1="546.3" x2="324.76" y2="549.5" stroke="#000" stroke-width="1.1"/>
<line x1="326" y1="546.3" x2="326" y2="550.9" stroke="#000" stroke-width="1.4"/>
<line x1="334.13" y1="546.3" x2="334.13" y2="549.5" stroke="#000" stroke-width="1.1"/>
<line x1="338.88" y1="546.3" x2="338.88" y2="549.5" stroke="#000" stroke-width="1.1"/>
<line x1="342.26" y1="546.3" x2="342.26" y2="549.5" stroke="#000" stroke-width="1.1"/>
<line x1="344.87" y1="546.3" x2="344.87" y2="549.5" stroke="#000" stroke-width="1.1"/>
<line x1="347.01" y1="546.3" x2="347.01" y2="549.5" stroke="#000" stroke-width="1.1"/>
<line x1="348.82" y1="546.3" x2="348.82" y2="549.5" stroke="#000" stroke-width="1.1"/>
<line x1="350.38" y1="546.3" x2="350.38" y2="549.5" stroke="#000" stroke-width="1.1"/>
<line x1="351.76" y1="546.3" x2="351.76" y2="549.5" stroke="#000" stroke-width="1.1"/>
<line x1="353" y1="546.3" x2="353" y2="550.9" stroke="#000" stroke-width="1.4"/>
<line x1="360.38" y1="546.3" x2="360.38" y2="549.5" stroke="#000" stroke-width="1.1"/>
<line x1="364.69" y1="546.3" x2="364.69" y2="549.5" stroke="#000" stroke-width="1.1"/>
<line x1="367.75" y1="546.3" x2="367.75" y2="549.5" stroke="#000" stroke-width="1.1"/>
<line x1="370.12" y1="546.3" x2="370.12" y2="549.5" stroke="#000" stroke-width="1.1"/>
<line x1="372.06" y1="546.3" x2="372.06" y2="549.5" stroke="#000" stroke-width="1.1"/>
<line x1="373.7" y1="546.3" x2="373.7" y2="549.5" stroke="#000" stroke-width="1.1"/>
<line x1="375.13" y1="546.3" x2="375.13" y2="549.5" stroke="#000" stroke-width="1.1"/>
<line x1="376.38" y1="546.3" x2="376.38" y2="549.5" stroke="#000" stroke-width="1.1"/>
<line x1="377.5" y1="546.3" x2="377.5" y2="550.9" stroke="#000" stroke-width="1.4"/>
<line x1="384.88" y1="546.3" x2="384.88" y2="549.5" stroke="#000" stroke-width="1.1"/>
<polyline fill="none" stroke="#c9c9c9" stroke-width="1.2" stroke-linejoin="round" points="397.3,546.29 398.1,546.26 398.9,546.21 399.7,546.11 400.5,545.89 401.3,545.47 402.1,544.77 402.9,543.45 403.7,541.36 404.5,538.13 405.3,534.33 406.1,528.4 406.9,521.76 407.7,511.87 408.5,503.43 409.3,497.78 410.1,487.08 410.9,482.76 411.7,483.05 412.5,485.06 413.3,491.6 414.1,498.49 414.9,504.21 415.7,513.67 416.5,520.94 417.3,527.62 418.1,533.44 418.9,537.4 419.7,540.64 420.5,542.74 421.3,544.29 422.1,545.17 422.9,545.71 423.7,546 424.5,546.16 425.3,546.24 426.1,546.27 426.9,546.29 427.7,546.3 428.5,546.3 429.3,546.3 430.1,546.3 430.9,546.3 431.7,546.3 432.5,546.3 433.3,546.3 434.1,546.3 434.9,546.3"/>
<polyline fill="none" stroke="#c9c9c9" stroke-width="1.2" stroke-linejoin="round" points="397.3,546.28 398.1,546.25 398.9,546.19 399.7,546.09 400.5,545.9 401.3,545.51 402.1,544.89 402.9,543.72 403.7,542.07 404.5,539.67 405.3,536.29 406.1,531.65 406.9,527.01 407.7,519.93 408.5,513.77 409.3,503.78 410.1,500.93 410.9,491.89 411.7,492.64 412.5,488.25 413.3,491.78 414.1,495.22 414.9,498.82 415.7,509.09 416.5,515.85 417.3,520.45 418.1,527.78 418.9,533.64 419.7,536.86 420.5,540.16 421.3,542.77 422.1,544.12 422.9,545.09 423.7,545.63 424.5,545.94 425.3,546.13 426.1,546.21 426.9,546.26 427.7,546.28 428.5,546.29 429.3,546.3 430.1,546.3 430.9,546.3 431.7,546.3 432.5,546.3 433.3,546.3 434.1,546.3 434.9,546.3"/>
<polyline fill="none" stroke="#1f4a78" stroke-width="1.6" stroke-linejoin="round" points="403.3,546.3 404.1,546.3 404.9,546.3 405.7,546.3 406.5,546.3 407.3,546.3 408.1,546.3 408.9,546.3 409.7,546.3 410.5,546.3 411.3,546.3 412.1,546.3 412.9,546.3 413.7,546.3 414.5,546.3 415.3,546.3 416.1,546.3 416.9,546.3 417.7,546.29 418.5,546.29 419.3,546.28 420.1,546.28 420.9,546.26 421.7,546.25 422.5,546.22 423.3,546.18 424.1,546.14 424.9,546.06 425.7,545.97 426.5,545.83 427.3,545.67 428.1,545.45 428.9,545.17 429.7,544.79 430.5,544.36 431.3,543.86 432.1,542.85 432.9,541.96 433.7,540.75 434.5,539.73 435.3,538.45 436.1,536.62 436.9,535.76 437.7,532.96 438.5,531.35 439.3,529.84 440.1,527.64 440.9,524.5 441.7,523.18 442.5,520.38 443.3,517.86 444.1,516.97 444.9,516.69 445.7,513.99 446.5,514.42 447.3,514.07 448.1,514.34 448.9,514.19 449.7,516.67 450.5,515.86 451.3,516.84 452.1,521.4 452.9,522.93 453.7,525.11 454.5,530.11 455.3,532.33 456.1,533.49 456.9,535.75 457.7,538.02 458.5,540.17 459.3,541.36 460.1,542.28 460.9,543.27 461.7,544.09 462.5,544.83 463.3,545.15 464.1,545.55 464.9,545.76 465.7,545.96 466.5,546.05 467.3,546.14 468.1,546.2 468.9,546.24 469.7,546.26 470.5,546.28 471.3,546.29 472.1,546.29 472.9,546.3 473.7,546.3 474.5,546.3 475.3,546.3 476.1,546.3 476.9,546.3 477.7,546.3 478.5,546.3 479.3,546.3 480.1,546.3 480.9,546.3 481.7,546.3 482.5,546.3 483.3,546.3 484.1,546.3 484.9,546.3 485.7,546.3 486.5,546.3 487.3,546.3 488.1,546.3 488.9,546.3 489.7,546.3 490.5,546.3 491.3,546.3 492.1,546.3 492.9,546.3 493.7,546.3 494.5,546.3 495.3,546.3 496.1,546.3 496.9,546.3 497.7,546.3 498.5,546.3 499.3,546.3 500.1,546.3 500.9,546.3 501.7,546.3 502.5,546.3 503.3,546.3 504.1,546.3 504.9,546.3 505.7,546.3 506.5,546.3"/>
<polyline fill="none" stroke="#44575c" stroke-width="1.6" stroke-linejoin="round" points="403.3,546.3 404.1,546.29 404.9,546.29 405.7,546.29 406.5,546.28 407.3,546.27 408.1,546.26 408.9,546.24 409.7,546.22 410.5,546.18 411.3,546.15 412.1,546.07 412.9,546.02 413.7,545.92 414.5,545.73 415.3,545.6 416.1,545.4 416.9,545.02 417.7,544.7 418.5,544.42 419.3,543.76 420.1,543.07 420.9,542.62 421.7,541.42 422.5,540.87 423.3,539.55 424.1,538.61 424.9,537.07 425.7,534.15 426.5,533.48 427.3,530.27 428.1,529.67 428.9,527.18 429.7,524.23 430.5,522.77 431.3,523.03 432.1,519.24 432.9,517.3 433.7,517.9 434.5,517.1 435.3,512.11 436.1,513.24 436.9,514.53 437.7,513.07 438.5,514.69 439.3,512.52 440.1,515.37 440.9,518.94 441.7,517.73 442.5,523.02 443.3,524.59 444.1,527.8 444.9,528.1 445.7,532.12 446.5,533.4 447.3,536.25 448.1,537.47 448.9,538.89 449.7,540.51 450.5,541.8 451.3,542.79 452.1,543.64 452.9,544.25 453.7,544.9 454.5,545.21 455.3,545.55 456.1,545.71 456.9,545.88 457.7,546.05 458.5,546.13 459.3,546.18 460.1,546.22 460.9,546.25 461.7,546.27 462.5,546.28 463.3,546.29 464.1,546.29 464.9,546.3 465.7,546.3 466.5,546.3 467.3,546.3 468.1,546.3 468.9,546.3 469.7,546.3 470.5,546.3 471.3,546.3 472.1,546.3 472.9,546.3 473.7,546.3 474.5,546.3 475.3,546.3 476.1,546.3 476.9,546.3 477.7,546.3 478.5,546.3 479.3,546.3 480.1,546.3 480.9,546.3 481.7,546.3 482.5,546.3 483.3,546.3 484.1,546.3 484.9,546.3 485.7,546.3 486.5,546.3 487.3,546.3 488.1,546.3 488.9,546.3 489.7,546.3 490.5,546.3 491.3,546.3 492.1,546.3 492.9,546.3 493.7,546.3 494.5,546.3 495.3,546.3 496.1,546.3 496.9,546.3 497.7,546.3 498.5,546.3 499.3,546.3 500.1,546.3 500.9,546.3 501.7,546.3 502.5,546.3 503.3,546.3 504.1,546.3 504.9,546.3 505.7,546.3 506.5,546.3"/>
<polyline fill="none" stroke="#66ad3c" stroke-width="1.7" stroke-linejoin="round" points="403.3,546.3 404.1,546.3 404.9,546.3 405.7,546.3 406.5,546.3 407.3,546.3 408.1,546.29 408.9,546.29 409.7,546.28 410.5,546.27 411.3,546.26 412.1,546.24 412.9,546.21 413.7,546.18 414.5,546.14 415.3,546.07 416.1,545.95 416.9,545.82 417.7,545.66 418.5,545.5 419.3,545.14 420.1,544.86 420.9,544.5 421.7,543.92 422.5,543.29 423.3,542.71 424.1,541.52 424.9,540.6 425.7,539.17 426.5,537.32 427.3,536.03 428.1,534.64 428.9,531.88 429.7,529.45 430.5,528.42 431.3,524.93 432.1,525.46 432.9,522.98 433.7,520.85 434.5,515.87 435.3,515.01 436.1,513.29 436.9,514 437.7,512.09 438.5,509.61 439.3,513.26 440.1,513.46 440.9,514.59 441.7,513.97 442.5,514.2 443.3,517.66 444.1,520.72 444.9,523.02 445.7,526.68 446.5,527.35 447.3,531.39 448.1,533.99 448.9,536.02 449.7,537.34 450.5,539.63 451.3,540.62 452.1,542.24 452.9,543.17 453.7,544.08 454.5,544.47 455.3,545 456.1,545.41 456.9,545.71 457.7,545.87 458.5,546.02 459.3,546.1 460.1,546.17 460.9,546.22 461.7,546.25 462.5,546.27 463.3,546.28 464.1,546.29 464.9,546.29 465.7,546.3 466.5,546.3 467.3,546.3 468.1,546.3 468.9,546.3 469.7,546.3 470.5,546.3 471.3,546.3 472.1,546.3 472.9,546.3 473.7,546.3 474.5,546.3 475.3,546.3 476.1,546.3 476.9,546.3 477.7,546.3 478.5,546.3 479.3,546.3 480.1,546.3 480.9,546.3 481.7,546.3 482.5,546.3 483.3,546.3 484.1,546.3 484.9,546.3 485.7,546.3 486.5,546.3 487.3,546.3 488.1,546.3 488.9,546.3 489.7,546.3 490.5,546.3 491.3,546.3 492.1,546.3 492.9,546.3 493.7,546.3 494.5,546.3 495.3,546.3 496.1,546.3 496.9,546.3 497.7,546.3 498.5,546.3 499.3,546.3 500.1,546.3 500.9,546.3 501.7,546.3 502.5,546.3 503.3,546.3 504.1,546.3 504.9,546.3 505.7,546.3 506.5,546.3"/>
<polyline fill="none" stroke="#b5112f" stroke-width="1.6" stroke-linejoin="round" points="403.3,546.28 404.1,546.28 404.9,546.27 405.7,546.25 406.5,546.23 407.3,546.2 408.1,546.18 408.9,546.12 409.7,546.09 410.5,546 411.3,545.9 412.1,545.79 412.9,545.56 413.7,545.41 414.5,545.06 415.3,544.69 416.1,544.51 416.9,543.81 417.7,543.27 418.5,542.68 419.3,542.4 420.1,541.22 420.9,540.06 421.7,539.36 422.5,538.29 423.3,536.85 424.1,535.54 424.9,532.82 425.7,532.22 426.5,530.32 427.3,527.85 428.1,524.92 428.9,525.54 429.7,524.91 430.5,519.21 431.3,518.22 432.1,516.96 432.9,517.1 433.7,517.67 434.5,517.41 435.3,516.12 436.1,515.03 436.9,517.39 437.7,514.44 438.5,515.39 439.3,520.55 440.1,518.26 440.9,522.01 441.7,522.57 442.5,526.69 443.3,528.06 444.1,531.43 444.9,533.27 445.7,535.59 446.5,538.21 447.3,539.57 448.1,540.82 448.9,541.84 449.7,542.86 450.5,543.59 451.3,544.22 452.1,544.83 452.9,545.25 453.7,545.52 454.5,545.7 455.3,545.9 456.1,546.03 456.9,546.11 457.7,546.19 458.5,546.23 459.3,546.25 460.1,546.27 460.9,546.28 461.7,546.29 462.5,546.29 463.3,546.3 464.1,546.3 464.9,546.3 465.7,546.3 466.5,546.3 467.3,546.3 468.1,546.3 468.9,546.3 469.7,546.3 470.5,546.3 471.3,546.3 472.1,546.3 472.9,546.3 473.7,546.3 474.5,546.3 475.3,546.3 476.1,546.3 476.9,546.3 477.7,546.3 478.5,546.3 479.3,546.3 480.1,546.3 480.9,546.3 481.7,546.3 482.5,546.3 483.3,546.3 484.1,546.3 484.9,546.3 485.7,546.3 486.5,546.3 487.3,546.3 488.1,546.3 488.9,546.3 489.7,546.3 490.5,546.3 491.3,546.3 492.1,546.3 492.9,546.3 493.7,546.3 494.5,546.3 495.3,546.3 496.1,546.3 496.9,546.3 497.7,546.3 498.5,546.3 499.3,546.3 500.1,546.3 500.9,546.3 501.7,546.3 502.5,546.3 503.3,546.3 504.1,546.3 504.9,546.3 505.7,546.3 506.5,546.3"/>
<line x1="395.3" y1="465.2" x2="395.3" y2="547.3" stroke="#000" stroke-width="2.1"/>
<line x1="391.3" y1="466.2" x2="509.2" y2="466.2" stroke="#000" stroke-width="2.1"/>
<line x1="508.3" y1="465.2" x2="508.3" y2="547.3" stroke="#000" stroke-width="1.9"/>
<line x1="391.3" y1="546.3" x2="509.2" y2="546.3" stroke="#000" stroke-width="2"/>
<line x1="392.8" y1="543.1" x2="395.3" y2="543.1" stroke="#000" stroke-width="1.2"/>
<line x1="392.8" y1="539.89" x2="395.3" y2="539.89" stroke="#000" stroke-width="1.2"/>
<line x1="392.8" y1="536.69" x2="395.3" y2="536.69" stroke="#000" stroke-width="1.2"/>
<line x1="392.8" y1="533.48" x2="395.3" y2="533.48" stroke="#000" stroke-width="1.2"/>
<line x1="391.7" y1="530.28" x2="395.3" y2="530.28" stroke="#000" stroke-width="1.2"/>
<line x1="392.8" y1="527.08" x2="395.3" y2="527.08" stroke="#000" stroke-width="1.2"/>
<line x1="392.8" y1="523.87" x2="395.3" y2="523.87" stroke="#000" stroke-width="1.2"/>
<line x1="392.8" y1="520.67" x2="395.3" y2="520.67" stroke="#000" stroke-width="1.2"/>
<line x1="392.8" y1="517.46" x2="395.3" y2="517.46" stroke="#000" stroke-width="1.2"/>
<line x1="391.7" y1="514.26" x2="395.3" y2="514.26" stroke="#000" stroke-width="1.2"/>
<line x1="392.8" y1="511.06" x2="395.3" y2="511.06" stroke="#000" stroke-width="1.2"/>
<line x1="392.8" y1="507.85" x2="395.3" y2="507.85" stroke="#000" stroke-width="1.2"/>
<line x1="392.8" y1="504.65" x2="395.3" y2="504.65" stroke="#000" stroke-width="1.2"/>
<line x1="392.8" y1="501.44" x2="395.3" y2="501.44" stroke="#000" stroke-width="1.2"/>
<line x1="391.7" y1="498.24" x2="395.3" y2="498.24" stroke="#000" stroke-width="1.2"/>
<line x1="392.8" y1="495.04" x2="395.3" y2="495.04" stroke="#000" stroke-width="1.2"/>
<line x1="392.8" y1="491.83" x2="395.3" y2="491.83" stroke="#000" stroke-width="1.2"/>
<line x1="392.8" y1="488.63" x2="395.3" y2="488.63" stroke="#000" stroke-width="1.2"/>
<line x1="392.8" y1="485.42" x2="395.3" y2="485.42" stroke="#000" stroke-width="1.2"/>
<line x1="391.7" y1="482.22" x2="395.3" y2="482.22" stroke="#000" stroke-width="1.2"/>
<line x1="392.8" y1="479.02" x2="395.3" y2="479.02" stroke="#000" stroke-width="1.2"/>
<line x1="392.8" y1="475.81" x2="395.3" y2="475.81" stroke="#000" stroke-width="1.2"/>
<line x1="392.8" y1="472.61" x2="395.3" y2="472.61" stroke="#000" stroke-width="1.2"/>
<line x1="392.8" y1="469.4" x2="395.3" y2="469.4" stroke="#000" stroke-width="1.2"/>
<rect x="396.8" y="546.3" width="3.2" height="3.8" fill="#000" opacity="0.9"/>
<rect x="400.5" y="546.3" width="3.2" height="3.8" fill="#000" opacity="0.9"/>
<rect x="404.2" y="546.3" width="4.4" height="3.8" fill="#000" opacity="0.9"/>
<rect x="412.9" y="546.3" width="5.4" height="3.2" fill="#000" opacity="0.85"/>
<line x1="419.6" y1="546.3" x2="419.6" y2="550.7" stroke="#000" stroke-width="1.4"/>
<line x1="433.18" y1="546.3" x2="433.18" y2="549.5" stroke="#000" stroke-width="1.1"/>
<line x1="436.56" y1="546.3" x2="436.56" y2="549.5" stroke="#000" stroke-width="1.1"/>
<line x1="439.17" y1="546.3" x2="439.17" y2="549.5" stroke="#000" stroke-width="1.1"/>
<line x1="441.31" y1="546.3" x2="441.31" y2="549.5" stroke="#000" stroke-width="1.1"/>
<line x1="443.12" y1="546.3" x2="443.12" y2="549.5" stroke="#000" stroke-width="1.1"/>
<line x1="444.68" y1="546.3" x2="444.68" y2="549.5" stroke="#000" stroke-width="1.1"/>
<line x1="446.06" y1="546.3" x2="446.06" y2="549.5" stroke="#000" stroke-width="1.1"/>
<line x1="447.3" y1="546.3" x2="447.3" y2="550.9" stroke="#000" stroke-width="1.4"/>
<line x1="455.43" y1="546.3" x2="455.43" y2="549.5" stroke="#000" stroke-width="1.1"/>
<line x1="460.18" y1="546.3" x2="460.18" y2="549.5" stroke="#000" stroke-width="1.1"/>
<line x1="463.56" y1="546.3" x2="463.56" y2="549.5" stroke="#000" stroke-width="1.1"/>
<line x1="466.17" y1="546.3" x2="466.17" y2="549.5" stroke="#000" stroke-width="1.1"/>
<line x1="468.31" y1="546.3" x2="468.31" y2="549.5" stroke="#000" stroke-width="1.1"/>
<line x1="470.12" y1="546.3" x2="470.12" y2="549.5" stroke="#000" stroke-width="1.1"/>
<line x1="471.68" y1="546.3" x2="471.68" y2="549.5" stroke="#000" stroke-width="1.1"/>
<line x1="473.06" y1="546.3" x2="473.06" y2="549.5" stroke="#000" stroke-width="1.1"/>
<line x1="474.3" y1="546.3" x2="474.3" y2="550.9" stroke="#000" stroke-width="1.4"/>
<line x1="481.68" y1="546.3" x2="481.68" y2="549.5" stroke="#000" stroke-width="1.1"/>
<line x1="485.99" y1="546.3" x2="485.99" y2="549.5" stroke="#000" stroke-width="1.1"/>
<line x1="489.05" y1="546.3" x2="489.05" y2="549.5" stroke="#000" stroke-width="1.1"/>
<line x1="491.42" y1="546.3" x2="491.42" y2="549.5" stroke="#000" stroke-width="1.1"/>
<line x1="493.36" y1="546.3" x2="493.36" y2="549.5" stroke="#000" stroke-width="1.1"/>
<line x1="495" y1="546.3" x2="495" y2="549.5" stroke="#000" stroke-width="1.1"/>
<line x1="496.43" y1="546.3" x2="496.43" y2="549.5" stroke="#000" stroke-width="1.1"/>
<line x1="497.68" y1="546.3" x2="497.68" y2="549.5" stroke="#000" stroke-width="1.1"/>
<line x1="498.8" y1="546.3" x2="498.8" y2="550.9" stroke="#000" stroke-width="1.4"/>
<line x1="506.18" y1="546.3" x2="506.18" y2="549.5" stroke="#000" stroke-width="1.1"/>
<line x1="454.5" y1="472.2" x2="465.8" y2="472.2" stroke="#66ad3c" stroke-width="1.7"/>
<text x="470.3" y="474.9" textLength="25" lengthAdjust="spacingAndGlyphs" fill="#000" font-size="7.6" stroke="#000" stroke-width="0.25">pLKO.1</text>
<line x1="454.5" y1="482.45" x2="465.8" y2="482.45" stroke="#b5112f" stroke-width="1.7"/>
<text x="470.3" y="485.15" textLength="27.5" lengthAdjust="spacingAndGlyphs" fill="#000" font-size="7.6" stroke="#000" stroke-width="0.25">shCD86</text>
<line x1="454.5" y1="492.7" x2="465.8" y2="492.7" stroke="#1f4a78" stroke-width="1.7"/>
<text x="470.3" y="495.4" textLength="27.5" lengthAdjust="spacingAndGlyphs" fill="#000" font-size="7.6" stroke="#000" stroke-width="0.25">shCD28</text>
<line x1="454.5" y1="502.95" x2="465.8" y2="502.95" stroke="#44575c" stroke-width="1.7"/>
<text x="470.3" y="505.65" textLength="36.3" lengthAdjust="spacingAndGlyphs" fill="#000" font-size="7.6" stroke="#000" stroke-width="0.25">shGAPDH</text>
<line x1="454.5" y1="513.2" x2="465.8" y2="513.2" stroke="#c9c9c9" stroke-width="1.1"/>
<text x="470.3" y="515.9" textLength="24.5" lengthAdjust="spacingAndGlyphs" fill="#000" font-size="7.6" stroke="#000" stroke-width="0.25">isotype</text>
<polyline fill="none" stroke="#c9c9c9" stroke-width="1.2" stroke-linejoin="round" points="279,649.79 279.8,649.78 280.6,649.75 281.4,649.66 282.2,649.48 283,649.05 283.8,648.23 284.6,646.8 285.4,644.3 286.2,640.6 287,635.37 287.8,627.26 288.6,617.4 289.4,609.33 290.2,596.2 291,591.42 291.8,586.87 292.6,587.57 293.4,584.99 294.2,593.57 295,602.2 295.8,613.37 296.6,624.48 297.4,631.72 298.2,637.83 299,642.76 299.8,645.41 300.6,647.56 301.4,648.69 302.2,649.24 303,649.56 303.8,649.69 304.6,649.76 305.4,649.78 306.2,649.79 307,649.8 307.8,649.8 308.6,649.8 309.4,649.8 310.2,649.8 311,649.8 311.8,649.8 312.6,649.8 313.4,649.8 314.2,649.8 315,649.8 315.8,649.8 316.6,649.8 317.4,649.8 318.2,649.8 319,649.8 319.8,649.8 320.6,649.8 321.4,649.8"/>
<polyline fill="none" stroke="#c9c9c9" stroke-width="1.2" stroke-linejoin="round" points="279,649.79 279.8,649.77 280.6,649.72 281.4,649.59 282.2,649.38 283,648.93 283.8,648 284.6,646.57 285.4,643.84 286.2,640.6 287,634.43 287.8,628.66 288.6,619.76 289.4,609.38 290.2,601.33 291,592.34 291.8,588.34 292.6,590.6 293.4,587.19 294.2,593.8 295,602.39 295.8,611.22 296.6,617.68 297.4,626.72 298.2,633.13 299,638.97 299.8,642.91 300.6,645.88 301.4,647.58 302.2,648.64 303,649.24 303.8,649.51 304.6,649.68 305.4,649.75 306.2,649.78 307,649.79 307.8,649.8 308.6,649.8 309.4,649.8 310.2,649.8 311,649.8 311.8,649.8 312.6,649.8 313.4,649.8 314.2,649.8 315,649.8 315.8,649.8 316.6,649.8 317.4,649.8 318.2,649.8 319,649.8 319.8,649.8 320.6,649.8 321.4,649.8"/>
<polyline fill="none" stroke="#66ad3c" stroke-width="1.6" stroke-linejoin="round" points="280,649.77 280.8,649.75 281.6,649.69 282.4,649.61 283.2,649.37 284,649.01 284.8,648.33 285.6,647.44 286.4,645.81 287.2,643.13 288,640.18 288.8,635.29 289.6,631.7 290.4,625.97 291.2,616.37 292,612.73 292.8,607.62 293.6,602.98 294.4,605.63 295.2,608.77 296,603.71 296.8,607.66 297.6,610.06 298.4,613.75 299.2,615.19 300,622.56 300.8,624.03 301.6,629.15 302.4,631.3 303.2,633.65 304,636.83 304.8,639.11 305.6,639.69 306.4,640.47 307.2,641.73 308,642.81 308.8,643.28 309.6,644.47 310.4,645.03 311.2,645.39 312,645.47 312.8,646.41 313.6,646.87 314.4,647.25 315.2,647.62 316,647.83 316.8,648.02 317.6,648.22 318.4,648.6 319.2,648.79 320,648.99 320.8,649.13 321.6,649.21 322.4,649.35 323.2,649.46 324,649.54 324.8,649.57 325.6,649.62 326.4,649.66 327.2,649.71 328,649.72 328.8,649.74 329.6,649.76 330.4,649.77 331.2,649.78 332,649.78 332.8,649.79 333.6,649.79 334.4,649.79 335.2,649.8 336,649.8 336.8,649.8 337.6,649.8 338.4,649.8 339.2,649.8 340,649.8 340.8,649.8 341.6,649.8 342.4,649.8 343.2,649.8 344,649.8 344.8,649.8 345.6,649.8 346.4,649.8 347.2,649.8 348,649.8 348.8,649.8 349.6,649.8 350.4,649.8 351.2,649.8 352,649.8 352.8,649.8 353.6,649.8 354.4,649.8 355.2,649.8 356,649.8 356.8,649.8 357.6,649.8 358.4,649.8 359.2,649.8 360,649.8 360.8,649.8 361.6,649.8 362.4,649.8 363.2,649.8 364,649.8 364.8,649.8 365.6,649.8 366.4,649.8 367.2,649.8 368,649.8 368.8,649.8 369.6,649.8 370.4,649.8 371.2,649.8 372,649.8 372.8,649.8 373.6,649.8 374.4,649.8 375.2,649.8 376,649.8 376.8,649.8 377.6,649.8 378.4,649.8 379.2,649.8 380,649.8 380.8,649.8 381.6,649.8 382.4,649.8 383.2,649.8 384,649.8 384.8,649.8 385.6,649.8 386.4,649.8 387.2,649.8 388,649.8"/>
<polyline fill="none" stroke="#b5112f" stroke-width="1.6" stroke-linejoin="round" points="280,649.76 280.8,649.71 281.6,649.64 282.4,649.43 283.2,649.18 284,648.53 284.8,647.79 285.6,645.91 286.4,644.26 287.2,640.29 288,635.9 288.8,630.4 289.6,625.84 290.4,617.26 291.2,610.23 292,612.17 292.8,605.8 293.6,600.71 294.4,602.9 295.2,606.71 296,609.88 296.8,607.46 297.6,617.13 298.4,615.97 299.2,619.23 300,626.38 300.8,628.67 301.6,631.61 302.4,633.36 303.2,636.1 304,636.62 304.8,638.19 305.6,640.69 306.4,640.71 307.2,642.89 308,643.52 308.8,643.42 309.6,643.88 310.4,644.44 311.2,644.83 312,645.46 312.8,646.38 313.6,646.48 314.4,646.8 315.2,647.6 316,647.74 316.8,648.16 317.6,648.42 318.4,648.56 319.2,648.73 320,648.87 320.8,649.16 321.6,649.24 322.4,649.31 323.2,649.42 324,649.52 324.8,649.59 325.6,649.63 326.4,649.68 327.2,649.7 328,649.72 328.8,649.75 329.6,649.76 330.4,649.77 331.2,649.78 332,649.78 332.8,649.79 333.6,649.79 334.4,649.79 335.2,649.8 336,649.8 336.8,649.8 337.6,649.8 338.4,649.8 339.2,649.8 340,649.8 340.8,649.8 341.6,649.8 342.4,649.8 343.2,649.8 344,649.8 344.8,649.8 345.6,649.8 346.4,649.8 347.2,649.8 348,649.8 348.8,649.8 349.6,649.8 350.4,649.8 351.2,649.8 352,649.8 352.8,649.8 353.6,649.8 354.4,649.8 355.2,649.8 356,649.8 356.8,649.8 357.6,649.8 358.4,649.8 359.2,649.8 360,649.8 360.8,649.8 361.6,649.8 362.4,649.8 363.2,649.8 364,649.8 364.8,649.8 365.6,649.8 366.4,649.8 367.2,649.8 368,649.8 368.8,649.8 369.6,649.8 370.4,649.8 371.2,649.8 372,649.8 372.8,649.8 373.6,649.8 374.4,649.8 375.2,649.8 376,649.8 376.8,649.8 377.6,649.8 378.4,649.8 379.2,649.8 380,649.8 380.8,649.8 381.6,649.8 382.4,649.8 383.2,649.8 384,649.8 384.8,649.8 385.6,649.8 386.4,649.8 387.2,649.8 388,649.8"/>
<polyline fill="none" stroke="#44575c" stroke-width="1.6" stroke-linejoin="round" points="280,649.78 280.8,649.75 281.6,649.7 282.4,649.62 283.2,649.38 284,649.04 284.8,648.56 285.6,647.19 286.4,645.99 287.2,643.65 288,640.22 288.8,635.49 289.6,631.93 290.4,623.6 291.2,616.33 292,612.63 292.8,605.68 293.6,604.11 294.4,601.33 295.2,607.48 296,607.11 296.8,608.26 297.6,613.9 298.4,610.72 299.2,616.79 300,623.59 300.8,624.43 301.6,628.55 302.4,632.37 303.2,634.94 304,636.21 304.8,638.99 305.6,639.37 306.4,640.74 307.2,642.4 308,642.15 308.8,644.02 309.6,644.47 310.4,644.36 311.2,645.48 312,645.79 312.8,646.15 313.6,646.67 314.4,647.03 315.2,647.4 316,647.74 316.8,648.2 317.6,648.22 318.4,648.61 319.2,648.86 320,648.97 320.8,649.06 321.6,649.23 322.4,649.35 323.2,649.44 324,649.53 324.8,649.58 325.6,649.64 326.4,649.68 327.2,649.71 328,649.73 328.8,649.74 329.6,649.76 330.4,649.77 331.2,649.78 332,649.79 332.8,649.79 333.6,649.79 334.4,649.79 335.2,649.8 336,649.8 336.8,649.8 337.6,649.8 338.4,649.8 339.2,649.8 340,649.8 340.8,649.8 341.6,649.8 342.4,649.8 343.2,649.8 344,649.8 344.8,649.8 345.6,649.8 346.4,649.8 347.2,649.8 348,649.8 348.8,649.8 349.6,649.8 350.4,649.8 351.2,649.8 352,649.8 352.8,649.8 353.6,649.8 354.4,649.8 355.2,649.8 356,649.8 356.8,649.8 357.6,649.8 358.4,649.8 359.2,649.8 360,649.8 360.8,649.8 361.6,649.8 362.4,649.8 363.2,649.8 364,649.8 364.8,649.8 365.6,649.8 366.4,649.8 367.2,649.8 368,649.8 368.8,649.8 369.6,649.8 370.4,649.8 371.2,649.8 372,649.8 372.8,649.8 373.6,649.8 374.4,649.8 375.2,649.8 376,649.8 376.8,649.8 377.6,649.8 378.4,649.8 379.2,649.8 380,649.8 380.8,649.8 381.6,649.8 382.4,649.8 383.2,649.8 384,649.8 384.8,649.8 385.6,649.8 386.4,649.8 387.2,649.8 388,649.8"/>
<polyline fill="none" stroke="#1f4a78" stroke-width="1.6" stroke-linejoin="round" points="280,649.77 280.8,649.74 281.6,649.68 282.4,649.53 283.2,649.32 284,648.75 284.8,647.92 285.6,647.01 286.4,644.57 287.2,641.93 288,637.81 288.8,631.83 289.6,625.56 290.4,622.15 291.2,613.32 292,608.23 292.8,602.63 293.6,609.05 294.4,600.67 295.2,607.9 296,610.32 296.8,608.87 297.6,610.19 298.4,613.04 299.2,620.51 300,621.5 300.8,628.81 301.6,627.89 302.4,633.28 303.2,634.84 304,637.95 304.8,639.67 305.6,640.98 306.4,640.96 307.2,641.97 308,642.42 308.8,643.11 309.6,644.25 310.4,644.38 311.2,645.53 312,645.43 312.8,646.38 313.6,646.35 314.4,647.1 315.2,647.43 316,647.73 316.8,648.2 317.6,648.44 318.4,648.54 319.2,648.72 320,649.03 320.8,649.12 321.6,649.25 322.4,649.33 323.2,649.41 324,649.54 324.8,649.58 325.6,649.64 326.4,649.66 327.2,649.69 328,649.72 328.8,649.74 329.6,649.76 330.4,649.77 331.2,649.78 332,649.79 332.8,649.79 333.6,649.79 334.4,649.79 335.2,649.8 336,649.8 336.8,649.8 337.6,649.8 338.4,649.8 339.2,649.8 340,649.8 340.8,649.8 341.6,649.8 342.4,649.8 343.2,649.8 344,649.8 344.8,649.8 345.6,649.8 346.4,649.8 347.2,649.8 348,649.8 348.8,649.8 349.6,649.8 350.4,649.8 351.2,649.8 352,649.8 352.8,649.8 353.6,649.8 354.4,649.8 355.2,649.8 356,649.8 356.8,649.8 357.6,649.8 358.4,649.8 359.2,649.8 360,649.8 360.8,649.8 361.6,649.8 362.4,649.8 363.2,649.8 364,649.8 364.8,649.8 365.6,649.8 366.4,649.8 367.2,649.8 368,649.8 368.8,649.8 369.6,649.8 370.4,649.8 371.2,649.8 372,649.8 372.8,649.8 373.6,649.8 374.4,649.8 375.2,649.8 376,649.8 376.8,649.8 377.6,649.8 378.4,649.8 379.2,649.8 380,649.8 380.8,649.8 381.6,649.8 382.4,649.8 383.2,649.8 384,649.8 384.8,649.8 385.6,649.8 386.4,649.8 387.2,649.8 388,649.8"/>
<line x1="277" y1="568" x2="277" y2="650.8" stroke="#000" stroke-width="2.1"/>
<line x1="273" y1="569" x2="390.7" y2="569" stroke="#000" stroke-width="2.1"/>
<line x1="389.8" y1="568" x2="389.8" y2="650.8" stroke="#000" stroke-width="1.9"/>
<line x1="273" y1="649.8" x2="390.7" y2="649.8" stroke="#000" stroke-width="2"/>
<line x1="274.5" y1="646.57" x2="277" y2="646.57" stroke="#000" stroke-width="1.2"/>
<line x1="274.5" y1="643.34" x2="277" y2="643.34" stroke="#000" stroke-width="1.2"/>
<line x1="274.5" y1="640.1" x2="277" y2="640.1" stroke="#000" stroke-width="1.2"/>
<line x1="274.5" y1="636.87" x2="277" y2="636.87" stroke="#000" stroke-width="1.2"/>
<line x1="273.4" y1="633.64" x2="277" y2="633.64" stroke="#000" stroke-width="1.2"/>
<line x1="274.5" y1="630.41" x2="277" y2="630.41" stroke="#000" stroke-width="1.2"/>
<line x1="274.5" y1="627.18" x2="277" y2="627.18" stroke="#000" stroke-width="1.2"/>
<line x1="274.5" y1="623.94" x2="277" y2="623.94" stroke="#000" stroke-width="1.2"/>
<line x1="274.5" y1="620.71" x2="277" y2="620.71" stroke="#000" stroke-width="1.2"/>
<line x1="273.4" y1="617.48" x2="277" y2="617.48" stroke="#000" stroke-width="1.2"/>
<line x1="274.5" y1="614.25" x2="277" y2="614.25" stroke="#000" stroke-width="1.2"/>
<line x1="274.5" y1="611.02" x2="277" y2="611.02" stroke="#000" stroke-width="1.2"/>
<line x1="274.5" y1="607.78" x2="277" y2="607.78" stroke="#000" stroke-width="1.2"/>
<line x1="274.5" y1="604.55" x2="277" y2="604.55" stroke="#000" stroke-width="1.2"/>
<line x1="273.4" y1="601.32" x2="277" y2="601.32" stroke="#000" stroke-width="1.2"/>
<line x1="274.5" y1="598.09" x2="277" y2="598.09" stroke="#000" stroke-width="1.2"/>
<line x1="274.5" y1="594.86" x2="277" y2="594.86" stroke="#000" stroke-width="1.2"/>
<line x1="274.5" y1="591.62" x2="277" y2="591.62" stroke="#000" stroke-width="1.2"/>
<line x1="274.5" y1="588.39" x2="277" y2="588.39" stroke="#000" stroke-width="1.2"/>
<line x1="273.4" y1="585.16" x2="277" y2="585.16" stroke="#000" stroke-width="1.2"/>
<line x1="274.5" y1="581.93" x2="277" y2="581.93" stroke="#000" stroke-width="1.2"/>
<line x1="274.5" y1="578.7" x2="277" y2="578.7" stroke="#000" stroke-width="1.2"/>
<line x1="274.5" y1="575.46" x2="277" y2="575.46" stroke="#000" stroke-width="1.2"/>
<line x1="274.5" y1="572.23" x2="277" y2="572.23" stroke="#000" stroke-width="1.2"/>
<rect x="278.5" y="649.8" width="3.2" height="3.8" fill="#000" opacity="0.9"/>
<rect x="282.2" y="649.8" width="3.2" height="3.8" fill="#000" opacity="0.9"/>
<rect x="285.9" y="649.8" width="4.4" height="3.8" fill="#000" opacity="0.9"/>
<rect x="294.6" y="649.8" width="5.4" height="3.2" fill="#000" opacity="0.85"/>
<line x1="301.3" y1="649.8" x2="301.3" y2="654.2" stroke="#000" stroke-width="1.4"/>
<line x1="314.88" y1="649.8" x2="314.88" y2="653" stroke="#000" stroke-width="1.1"/>
<line x1="318.26" y1="649.8" x2="318.26" y2="653" stroke="#000" stroke-width="1.1"/>
<line x1="320.87" y1="649.8" x2="320.87" y2="653" stroke="#000" stroke-width="1.1"/>
<line x1="323.01" y1="649.8" x2="323.01" y2="653" stroke="#000" stroke-width="1.1"/>
<line x1="324.82" y1="649.8" x2="324.82" y2="653" stroke="#000" stroke-width="1.1"/>
<line x1="326.38" y1="649.8" x2="326.38" y2="653" stroke="#000" stroke-width="1.1"/>
<line x1="327.76" y1="649.8" x2="327.76" y2="653" stroke="#000" stroke-width="1.1"/>
<line x1="329" y1="649.8" x2="329" y2="654.4" stroke="#000" stroke-width="1.4"/>
<line x1="337.13" y1="649.8" x2="337.13" y2="653" stroke="#000" stroke-width="1.1"/>
<line x1="341.88" y1="649.8" x2="341.88" y2="653" stroke="#000" stroke-width="1.1"/>
<line x1="345.26" y1="649.8" x2="345.26" y2="653" stroke="#000" stroke-width="1.1"/>
<line x1="347.87" y1="649.8" x2="347.87" y2="653" stroke="#000" stroke-width="1.1"/>
<line x1="350.01" y1="649.8" x2="350.01" y2="653" stroke="#000" stroke-width="1.1"/>
<line x1="351.82" y1="649.8" x2="351.82" y2="653" stroke="#000" stroke-width="1.1"/>
<line x1="353.38" y1="649.8" x2="353.38" y2="653" stroke="#000" stroke-width="1.1"/>
<line x1="354.76" y1="649.8" x2="354.76" y2="653" stroke="#000" stroke-width="1.1"/>
<line x1="356" y1="649.8" x2="356" y2="654.4" stroke="#000" stroke-width="1.4"/>
<line x1="363.38" y1="649.8" x2="363.38" y2="653" stroke="#000" stroke-width="1.1"/>
<line x1="367.69" y1="649.8" x2="367.69" y2="653" stroke="#000" stroke-width="1.1"/>
<line x1="370.75" y1="649.8" x2="370.75" y2="653" stroke="#000" stroke-width="1.1"/>
<line x1="373.12" y1="649.8" x2="373.12" y2="653" stroke="#000" stroke-width="1.1"/>
<line x1="375.06" y1="649.8" x2="375.06" y2="653" stroke="#000" stroke-width="1.1"/>
<line x1="376.7" y1="649.8" x2="376.7" y2="653" stroke="#000" stroke-width="1.1"/>
<line x1="378.13" y1="649.8" x2="378.13" y2="653" stroke="#000" stroke-width="1.1"/>
<line x1="379.38" y1="649.8" x2="379.38" y2="653" stroke="#000" stroke-width="1.1"/>
<line x1="380.5" y1="649.8" x2="380.5" y2="654.4" stroke="#000" stroke-width="1.4"/>
<line x1="387.88" y1="649.8" x2="387.88" y2="653" stroke="#000" stroke-width="1.1"/>
<polyline fill="none" stroke="#c9c9c9" stroke-width="1.2" stroke-linejoin="round" points="398.3,649.78 399.1,649.75 399.9,649.69 400.7,649.58 401.5,649.4 402.3,649.06 403.1,648.46 403.9,647.4 404.7,646.12 405.5,643.7 406.3,640.72 407.1,637.43 407.9,632.04 408.7,626.53 409.5,620.42 410.3,612.01 411.1,609.57 411.9,605.21 412.7,597.45 413.5,598.82 414.3,600.65 415.1,602.78 415.9,607.11 416.7,610.54 417.5,619.47 418.3,625.59 419.1,630.59 419.9,635.76 420.7,639.53 421.5,642.96 422.3,645.58 423.1,647.23 423.9,648.17 424.7,648.86 425.5,649.33 426.3,649.54 427.1,649.67 427.9,649.74 428.7,649.77 429.5,649.79 430.3,649.79 431.1,649.8 431.9,649.8 432.7,649.8 433.5,649.8 434.3,649.8 435.1,649.8 435.9,649.8 436.7,649.8 437.5,649.8 438.3,649.8 439.1,649.8 439.9,649.8 440.7,649.8"/>
<polyline fill="none" stroke="#c9c9c9" stroke-width="1.2" stroke-linejoin="round" points="398.3,649.78 399.1,649.75 399.9,649.7 400.7,649.6 401.5,649.43 402.3,649.11 403.1,648.65 403.9,647.78 404.7,646.4 405.5,644.66 406.3,641.78 407.1,638.31 407.9,634.68 408.7,630.45 409.5,623.11 410.3,619.05 411.1,613.97 411.9,606.12 412.7,601.73 413.5,599.54 414.3,598.72 415.1,604.03 415.9,607.86 416.7,612.26 417.5,614.79 418.3,623.37 419.1,628.8 419.9,634.08 420.7,638.29 421.5,641.74 422.3,644.19 423.1,646.24 423.9,647.55 424.7,648.37 425.5,649.04 426.3,649.35 427.1,649.56 427.9,649.68 428.7,649.74 429.5,649.77 430.3,649.79 431.1,649.79 431.9,649.8 432.7,649.8 433.5,649.8 434.3,649.8 435.1,649.8 435.9,649.8 436.7,649.8 437.5,649.8 438.3,649.8 439.1,649.8 439.9,649.8 440.7,649.8"/>
<polyline fill="none" stroke="#66ad3c" stroke-width="1.8" stroke-linejoin="round" points="402.3,649.79 403.1,649.79 403.9,649.78 404.7,649.77 405.5,649.76 406.3,649.73 407.1,649.7 407.9,649.67 408.7,649.6 409.5,649.52 410.3,649.41 411.1,649.22 411.9,649.05 412.7,648.8 413.5,648.37 414.3,647.98 415.1,647.53 415.9,646.86 416.7,645.94 417.5,645.24 418.3,643.65 419.1,642.11 419.9,640.85 420.7,638.42 421.5,636.17 422.3,634.63 423.1,631.96 423.9,631 424.7,628.78 425.5,623.16 426.3,623.16 427.1,621.14 427.9,615.97 428.7,614.62 429.5,616.08 430.3,613.89 431.1,613.52 431.9,613.02 432.7,614.64 433.5,612.93 434.3,615.78 435.1,617.72 435.9,621.44 436.7,624.81 437.5,628.26 438.3,629.12 439.1,632.83 439.9,636.3 440.7,639.67 441.5,641.86 442.3,643.76 443.1,645.15 443.9,646.53 444.7,647.38 445.5,648.12 446.3,648.65 447.1,648.98 447.9,649.28 448.7,649.46 449.5,649.59 450.3,649.67 451.1,649.72 451.9,649.76 452.7,649.78 453.5,649.79 454.3,649.79 455.1,649.8 455.9,649.8 456.7,649.8 457.5,649.8 458.3,649.8 459.1,649.8 459.9,649.8 460.7,649.8 461.5,649.8 462.3,649.8 463.1,649.8 463.9,649.8 464.7,649.8 465.5,649.8 466.3,649.8 467.1,649.8 467.9,649.8 468.7,649.8 469.5,649.8 470.3,649.8 471.1,649.8 471.9,649.8 472.7,649.8 473.5,649.8 474.3,649.8 475.1,649.8 475.9,649.8 476.7,649.8 477.5,649.8 478.3,649.8 479.1,649.8 479.9,649.8 480.7,649.8 481.5,649.8 482.3,649.8 483.1,649.8 483.9,649.8 484.7,649.8 485.5,649.8 486.3,649.8 487.1,649.8 487.9,649.8 488.7,649.8 489.5,649.8 490.3,649.8 491.1,649.8 491.9,649.8 492.7,649.8 493.5,649.8 494.3,649.8 495.1,649.8 495.9,649.8 496.7,649.8 497.5,649.8 498.3,649.8 499.1,649.8 499.9,649.8 500.7,649.8 501.5,649.8 502.3,649.8 503.1,649.8 503.9,649.8 504.7,649.8 505.5,649.8 506.3,649.8 507.1,649.8"/>
<polyline fill="none" stroke="#1f4a78" stroke-width="1.8" stroke-linejoin="round" points="402.3,649.79 403.1,649.79 403.9,649.78 404.7,649.77 405.5,649.76 406.3,649.74 407.1,649.7 407.9,649.66 408.7,649.61 409.5,649.54 410.3,649.41 411.1,649.28 411.9,649.07 412.7,648.77 413.5,648.38 414.3,647.93 415.1,647.58 415.9,646.95 416.7,646.06 417.5,644.89 418.3,643.46 419.1,642.05 419.9,640.24 420.7,638.87 421.5,636.78 422.3,635.3 423.1,633.01 423.9,630.96 424.7,627.56 425.5,624.81 426.3,622.48 427.1,620.89 427.9,618.67 428.7,617.66 429.5,613.43 430.3,613.41 431.1,611.81 431.9,611.19 432.7,614.24 433.5,616.11 434.3,617.04 435.1,616.63 435.9,620.13 436.7,624.8 437.5,626.92 438.3,631.48 439.1,633.41 439.9,637.84 440.7,639.35 441.5,641.4 442.3,643.87 443.1,645.35 443.9,646.71 444.7,647.54 445.5,648.23 446.3,648.72 447.1,649.1 447.9,649.33 448.7,649.51 449.5,649.61 450.3,649.68 451.1,649.73 451.9,649.76 452.7,649.78 453.5,649.79 454.3,649.79 455.1,649.8 455.9,649.8 456.7,649.8 457.5,649.8 458.3,649.8 459.1,649.8 459.9,649.8 460.7,649.8 461.5,649.8 462.3,649.8 463.1,649.8 463.9,649.8 464.7,649.8 465.5,649.8 466.3,649.8 467.1,649.8 467.9,649.8 468.7,649.8 469.5,649.8 470.3,649.8 471.1,649.8 471.9,649.8 472.7,649.8 473.5,649.8 474.3,649.8 475.1,649.8 475.9,649.8 476.7,649.8 477.5,649.8 478.3,649.8 479.1,649.8 479.9,649.8 480.7,649.8 481.5,649.8 482.3,649.8 483.1,649.8 483.9,649.8 484.7,649.8 485.5,649.8 486.3,649.8 487.1,649.8 487.9,649.8 488.7,649.8 489.5,649.8 490.3,649.8 491.1,649.8 491.9,649.8 492.7,649.8 493.5,649.8 494.3,649.8 495.1,649.8 495.9,649.8 496.7,649.8 497.5,649.8 498.3,649.8 499.1,649.8 499.9,649.8 500.7,649.8 501.5,649.8 502.3,649.8 503.1,649.8 503.9,649.8 504.7,649.8 505.5,649.8 506.3,649.8 507.1,649.8"/>
<polyline fill="none" stroke="#44575c" stroke-width="1.8" stroke-linejoin="round" points="402.3,649.79 403.1,649.78 403.9,649.77 404.7,649.76 405.5,649.74 406.3,649.71 407.1,649.67 407.9,649.61 408.7,649.53 409.5,649.41 410.3,649.3 411.1,649.1 411.9,648.8 412.7,648.48 413.5,648.01 414.3,647.58 415.1,646.68 415.9,646.31 416.7,644.93 417.5,644.01 418.3,643.02 419.1,640.75 419.9,639.85 420.7,637.67 421.5,635.4 422.3,633.52 423.1,631.17 423.9,629.03 424.7,623.96 425.5,624.22 426.3,621.64 427.1,619.89 427.9,614.1 428.7,614.15 429.5,611.44 430.3,609.76 431.1,611.86 431.9,612.52 432.7,613.46 433.5,615.73 434.3,616.47 435.1,617.79 435.9,622.93 436.7,625.48 437.5,628.63 438.3,632.23 439.1,635.72 439.9,638.72 440.7,641.66 441.5,643.3 442.3,644.6 443.1,646.2 443.9,647.13 444.7,648.03 445.5,648.53 446.3,648.99 447.1,649.22 447.9,649.43 448.7,649.59 449.5,649.66 450.3,649.72 451.1,649.75 451.9,649.77 452.7,649.78 453.5,649.79 454.3,649.8 455.1,649.8 455.9,649.8 456.7,649.8 457.5,649.8 458.3,649.8 459.1,649.8 459.9,649.8 460.7,649.8 461.5,649.8 462.3,649.8 463.1,649.8 463.9,649.8 464.7,649.8 465.5,649.8 466.3,649.8 467.1,649.8 467.9,649.8 468.7,649.8 469.5,649.8 470.3,649.8 471.1,649.8 471.9,649.8 472.7,649.8 473.5,649.8 474.3,649.8 475.1,649.8 475.9,649.8 476.7,649.8 477.5,649.8 478.3,649.8 479.1,649.8 479.9,649.8 480.7,649.8 481.5,649.8 482.3,649.8 483.1,649.8 483.9,649.8 484.7,649.8 485.5,649.8 486.3,649.8 487.1,649.8 487.9,649.8 488.7,649.8 489.5,649.8 490.3,649.8 491.1,649.8 491.9,649.8 492.7,649.8 493.5,649.8 494.3,649.8 495.1,649.8 495.9,649.8 496.7,649.8 497.5,649.8 498.3,649.8 499.1,649.8 499.9,649.8 500.7,649.8 501.5,649.8 502.3,649.8 503.1,649.8 503.9,649.8 504.7,649.8 505.5,649.8 506.3,649.8 507.1,649.8"/>
<polyline fill="none" stroke="#b5112f" stroke-width="1.8" stroke-linejoin="round" points="402.3,649.79 403.1,649.79 403.9,649.78 404.7,649.77 405.5,649.75 406.3,649.72 407.1,649.7 407.9,649.64 408.7,649.58 409.5,649.47 410.3,649.36 411.1,649.18 411.9,648.95 412.7,648.65 413.5,648.21 414.3,647.67 415.1,647.26 415.9,646.33 416.7,645.35 417.5,644.59 418.3,643.6 419.1,641.8 419.9,639.78 420.7,638.24 421.5,636.83 422.3,633.57 423.1,632.12 423.9,628.11 424.7,627.81 425.5,623.93 426.3,622.32 427.1,617.58 427.9,619.24 428.7,614.07 429.5,614.89 430.3,614.14 431.1,614.43 431.9,612.85 432.7,611.24 433.5,612.35 434.3,614.82 435.1,618.98 435.9,623.47 436.7,625.67 437.5,628.58 438.3,632.77 439.1,634.35 439.9,638.8 440.7,640.92 441.5,642.97 442.3,644.66 443.1,646.06 443.9,647.02 444.7,647.8 445.5,648.3 446.3,648.84 447.1,649.15 447.9,649.4 448.7,649.55 449.5,649.64 450.3,649.7 451.1,649.75 451.9,649.77 452.7,649.78 453.5,649.79 454.3,649.79 455.1,649.8 455.9,649.8 456.7,649.8 457.5,649.8 458.3,649.8 459.1,649.8 459.9,649.8 460.7,649.8 461.5,649.8 462.3,649.8 463.1,649.8 463.9,649.8 464.7,649.8 465.5,649.8 466.3,649.8 467.1,649.8 467.9,649.8 468.7,649.8 469.5,649.8 470.3,649.8 471.1,649.8 471.9,649.8 472.7,649.8 473.5,649.8 474.3,649.8 475.1,649.8 475.9,649.8 476.7,649.8 477.5,649.8 478.3,649.8 479.1,649.8 479.9,649.8 480.7,649.8 481.5,649.8 482.3,649.8 483.1,649.8 483.9,649.8 484.7,649.8 485.5,649.8 486.3,649.8 487.1,649.8 487.9,649.8 488.7,649.8 489.5,649.8 490.3,649.8 491.1,649.8 491.9,649.8 492.7,649.8 493.5,649.8 494.3,649.8 495.1,649.8 495.9,649.8 496.7,649.8 497.5,649.8 498.3,649.8 499.1,649.8 499.9,649.8 500.7,649.8 501.5,649.8 502.3,649.8 503.1,649.8 503.9,649.8 504.7,649.8 505.5,649.8 506.3,649.8 507.1,649.8"/>
<line x1="396.3" y1="568" x2="396.3" y2="650.8" stroke="#000" stroke-width="2.1"/>
<line x1="392.3" y1="569" x2="509.6" y2="569" stroke="#000" stroke-width="2.1"/>
<line x1="508.7" y1="568" x2="508.7" y2="650.8" stroke="#000" stroke-width="1.9"/>
<line x1="392.3" y1="649.8" x2="509.6" y2="649.8" stroke="#000" stroke-width="2"/>
<line x1="393.8" y1="646.57" x2="396.3" y2="646.57" stroke="#000" stroke-width="1.2"/>
<line x1="393.8" y1="643.34" x2="396.3" y2="643.34" stroke="#000" stroke-width="1.2"/>
<line x1="393.8" y1="640.1" x2="396.3" y2="640.1" stroke="#000" stroke-width="1.2"/>
<line x1="393.8" y1="636.87" x2="396.3" y2="636.87" stroke="#000" stroke-width="1.2"/>
<line x1="392.7" y1="633.64" x2="396.3" y2="633.64" stroke="#000" stroke-width="1.2"/>
<line x1="393.8" y1="630.41" x2="396.3" y2="630.41" stroke="#000" stroke-width="1.2"/>
<line x1="393.8" y1="627.18" x2="396.3" y2="627.18" stroke="#000" stroke-width="1.2"/>
<line x1="393.8" y1="623.94" x2="396.3" y2="623.94" stroke="#000" stroke-width="1.2"/>
<line x1="393.8" y1="620.71" x2="396.3" y2="620.71" stroke="#000" stroke-width="1.2"/>
<line x1="392.7" y1="617.48" x2="396.3" y2="617.48" stroke="#000" stroke-width="1.2"/>
<line x1="393.8" y1="614.25" x2="396.3" y2="614.25" stroke="#000" stroke-width="1.2"/>
<line x1="393.8" y1="611.02" x2="396.3" y2="611.02" stroke="#000" stroke-width="1.2"/>
<line x1="393.8" y1="607.78" x2="396.3" y2="607.78" stroke="#000" stroke-width="1.2"/>
<line x1="393.8" y1="604.55" x2="396.3" y2="604.55" stroke="#000" stroke-width="1.2"/>
<line x1="392.7" y1="601.32" x2="396.3" y2="601.32" stroke="#000" stroke-width="1.2"/>
<line x1="393.8" y1="598.09" x2="396.3" y2="598.09" stroke="#000" stroke-width="1.2"/>
<line x1="393.8" y1="594.86" x2="396.3" y2="594.86" stroke="#000" stroke-width="1.2"/>
<line x1="393.8" y1="591.62" x2="396.3" y2="591.62" stroke="#000" stroke-width="1.2"/>
<line x1="393.8" y1="588.39" x2="396.3" y2="588.39" stroke="#000" stroke-width="1.2"/>
<line x1="392.7" y1="585.16" x2="396.3" y2="585.16" stroke="#000" stroke-width="1.2"/>
<line x1="393.8" y1="581.93" x2="396.3" y2="581.93" stroke="#000" stroke-width="1.2"/>
<line x1="393.8" y1="578.7" x2="396.3" y2="578.7" stroke="#000" stroke-width="1.2"/>
<line x1="393.8" y1="575.46" x2="396.3" y2="575.46" stroke="#000" stroke-width="1.2"/>
<line x1="393.8" y1="572.23" x2="396.3" y2="572.23" stroke="#000" stroke-width="1.2"/>
<rect x="397.8" y="649.8" width="3.2" height="3.8" fill="#000" opacity="0.9"/>
<rect x="401.5" y="649.8" width="3.2" height="3.8" fill="#000" opacity="0.9"/>
<rect x="405.2" y="649.8" width="4.4" height="3.8" fill="#000" opacity="0.9"/>
<rect x="413.9" y="649.8" width="5.4" height="3.2" fill="#000" opacity="0.85"/>
<line x1="420.6" y1="649.8" x2="420.6" y2="654.2" stroke="#000" stroke-width="1.4"/>
<line x1="434.18" y1="649.8" x2="434.18" y2="653" stroke="#000" stroke-width="1.1"/>
<line x1="437.56" y1="649.8" x2="437.56" y2="653" stroke="#000" stroke-width="1.1"/>
<line x1="440.17" y1="649.8" x2="440.17" y2="653" stroke="#000" stroke-width="1.1"/>
<line x1="442.31" y1="649.8" x2="442.31" y2="653" stroke="#000" stroke-width="1.1"/>
<line x1="444.12" y1="649.8" x2="444.12" y2="653" stroke="#000" stroke-width="1.1"/>
<line x1="445.68" y1="649.8" x2="445.68" y2="653" stroke="#000" stroke-width="1.1"/>
<line x1="447.06" y1="649.8" x2="447.06" y2="653" stroke="#000" stroke-width="1.1"/>
<line x1="448.3" y1="649.8" x2="448.3" y2="654.4" stroke="#000" stroke-width="1.4"/>
<line x1="456.43" y1="649.8" x2="456.43" y2="653" stroke="#000" stroke-width="1.1"/>
<line x1="461.18" y1="649.8" x2="461.18" y2="653" stroke="#000" stroke-width="1.1"/>
<line x1="464.56" y1="649.8" x2="464.56" y2="653" stroke="#000" stroke-width="1.1"/>
<line x1="467.17" y1="649.8" x2="467.17" y2="653" stroke="#000" stroke-width="1.1"/>
<line x1="469.31" y1="649.8" x2="469.31" y2="653" stroke="#000" stroke-width="1.1"/>
<line x1="471.12" y1="649.8" x2="471.12" y2="653" stroke="#000" stroke-width="1.1"/>
<line x1="472.68" y1="649.8" x2="472.68" y2="653" stroke="#000" stroke-width="1.1"/>
<line x1="474.06" y1="649.8" x2="474.06" y2="653" stroke="#000" stroke-width="1.1"/>
<line x1="475.3" y1="649.8" x2="475.3" y2="654.4" stroke="#000" stroke-width="1.4"/>
<line x1="482.68" y1="649.8" x2="482.68" y2="653" stroke="#000" stroke-width="1.1"/>
<line x1="486.99" y1="649.8" x2="486.99" y2="653" stroke="#000" stroke-width="1.1"/>
<line x1="490.05" y1="649.8" x2="490.05" y2="653" stroke="#000" stroke-width="1.1"/>
<line x1="492.42" y1="649.8" x2="492.42" y2="653" stroke="#000" stroke-width="1.1"/>
<line x1="494.36" y1="649.8" x2="494.36" y2="653" stroke="#000" stroke-width="1.1"/>
<line x1="496" y1="649.8" x2="496" y2="653" stroke="#000" stroke-width="1.1"/>
<line x1="497.43" y1="649.8" x2="497.43" y2="653" stroke="#000" stroke-width="1.1"/>
<line x1="498.68" y1="649.8" x2="498.68" y2="653" stroke="#000" stroke-width="1.1"/>
<line x1="499.8" y1="649.8" x2="499.8" y2="654.4" stroke="#000" stroke-width="1.4"/>
<line x1="507.18" y1="649.8" x2="507.18" y2="653" stroke="#000" stroke-width="1.1"/>
<text x="267.3" y="469.6" text-anchor="end" textLength="21" lengthAdjust="spacingAndGlyphs" font-size="11.2">500</text>
<text x="267.3" y="549.3" text-anchor="end" font-size="11.2">0</text>
<text x="267.3" y="572" text-anchor="end" textLength="21" lengthAdjust="spacingAndGlyphs" font-size="11.2">400</text>
<text x="267" y="653.2" text-anchor="end" font-size="11.2">0</text>
<text transform="translate(257 506.2) rotate(-90)" text-anchor="middle" textLength="52" lengthAdjust="spacingAndGlyphs" font-size="12.6" stroke="#111" stroke-width="0.3">MM.1s cells</text>
<text transform="translate(257 608.5) rotate(-90)" text-anchor="middle" textLength="44" lengthAdjust="spacingAndGlyphs" font-size="12.6" stroke="#111" stroke-width="0.3">8226 cells</text>
<text x="278" y="668.6" text-anchor="middle" font-size="11">0</text>
<text x="397.9" y="668.6" text-anchor="middle" font-size="11">0</text>
<text x="371" y="668.6" font-size="10.8">10<tspan dx="0.8" dy="-4.4" font-size="8.2">5</tspan></text>
<text x="489.3" y="668.6" font-size="10.8">10<tspan dx="0.8" dy="-4.4" font-size="8.2">5</tspan></text>
<text x="333.5" y="687.3" text-anchor="middle" textLength="26" lengthAdjust="spacingAndGlyphs" font-size="12.4" stroke="#111" stroke-width="0.25">ITGB7</text>
<text x="451.5" y="687.3" text-anchor="middle" textLength="25" lengthAdjust="spacingAndGlyphs" font-size="12.4" stroke="#111" stroke-width="0.25">ITGB1</text>
<rect x="85" y="804" width="16.5" height="82.3" fill="#68a93e"/>
<line x1="118.3" y1="773" x2="118.3" y2="787" stroke="#000" stroke-width="1.4"/>
<line x1="113.8" y1="773.4" x2="122.8" y2="773.4" stroke="#000" stroke-width="1.5"/>
<rect x="110" y="786" width="16.6" height="100.3" fill="#a9082c"/>
<line x1="143.5" y1="774.7" x2="143.5" y2="794.2" stroke="#000" stroke-width="1.4"/>
<line x1="139" y1="775.1" x2="148" y2="775.1" stroke="#000" stroke-width="1.5"/>
<rect x="135.2" y="793.2" width="16.6" height="93.1" fill="#2e4c7e"/>
<rect x="177" y="804" width="16.6" height="82.3" fill="#68a93e"/>
<line x1="210.65" y1="839.4" x2="210.65" y2="845" stroke="#000" stroke-width="1.4"/>
<line x1="206.15" y1="839.8" x2="215.15" y2="839.8" stroke="#000" stroke-width="1.5"/>
<rect x="202.3" y="844" width="16.7" height="42.3" fill="#a9082c"/>
<line x1="235.5" y1="829" x2="235.5" y2="833.5" stroke="#000" stroke-width="1.4"/>
<line x1="231" y1="829.4" x2="240" y2="829.4" stroke="#000" stroke-width="1.5"/>
<rect x="227.2" y="832.5" width="16.6" height="53.8" fill="#2e4c7e"/>
<line x1="72.5" y1="758.9" x2="72.5" y2="887.2" stroke="#000" stroke-width="1.8"/>
<line x1="71.6" y1="886.3" x2="256" y2="886.3" stroke="#000" stroke-width="1.8"/>
<line x1="68" y1="763.3" x2="72.5" y2="763.3" stroke="#000" stroke-width="1.4"/>
<text x="62.8" y="767" text-anchor="end" textLength="15.2" lengthAdjust="spacingAndGlyphs" font-size="10.4">1.5</text>
<line x1="68" y1="804" x2="72.5" y2="804" stroke="#000" stroke-width="1.4"/>
<text x="62.8" y="807.7" text-anchor="end" textLength="15.2" lengthAdjust="spacingAndGlyphs" font-size="10.4">1.0</text>
<line x1="68" y1="845.3" x2="72.5" y2="845.3" stroke="#000" stroke-width="1.4"/>
<text x="62.8" y="849" text-anchor="end" textLength="15.2" lengthAdjust="spacingAndGlyphs" font-size="10.4">0.5</text>
<line x1="68" y1="886.3" x2="72.5" y2="886.3" stroke="#000" stroke-width="1.4"/>
<text x="62.8" y="890" text-anchor="end" textLength="15.2" lengthAdjust="spacingAndGlyphs" font-size="10.4">0.0</text>
<text x="164.7" y="751.2" text-anchor="middle" textLength="32" lengthAdjust="spacingAndGlyphs" font-size="11">MM.1s</text>
<rect x="317.4" y="804" width="16.8" height="82.3" fill="#68a93e"/>
<line x1="351" y1="812.9" x2="351" y2="817" stroke="#000" stroke-width="1.4"/>
<line x1="346.5" y1="813.3" x2="355.5" y2="813.3" stroke="#000" stroke-width="1.5"/>
<rect x="342.6" y="816" width="16.8" height="70.3" fill="#a9082c"/>
<line x1="375.8" y1="816.4" x2="375.8" y2="825.4" stroke="#000" stroke-width="1.4"/>
<line x1="371.3" y1="816.8" x2="380.3" y2="816.8" stroke="#000" stroke-width="1.5"/>
<rect x="367.4" y="824.4" width="16.8" height="61.9" fill="#2e4c7e"/>
<rect x="409.4" y="804" width="16.8" height="82.3" fill="#68a93e"/>
<line x1="443" y1="839.9" x2="443" y2="844" stroke="#000" stroke-width="1.4"/>
<line x1="438.5" y1="840.3" x2="447.5" y2="840.3" stroke="#000" stroke-width="1.5"/>
<rect x="434.6" y="843" width="16.8" height="43.3" fill="#a9082c"/>
<line x1="468" y1="838.1" x2="468" y2="845.3" stroke="#000" stroke-width="1.4"/>
<line x1="463.5" y1="838.5" x2="472.5" y2="838.5" stroke="#000" stroke-width="1.5"/>
<rect x="459.4" y="844.3" width="17.2" height="42" fill="#2e4c7e"/>
<line x1="304.9" y1="758.9" x2="304.9" y2="887.2" stroke="#000" stroke-width="1.8"/>
<line x1="304" y1="886.3" x2="489" y2="886.3" stroke="#000" stroke-width="1.8"/>
<line x1="300.4" y1="763.3" x2="304.9" y2="763.3" stroke="#000" stroke-width="1.4"/>
<text x="295.2" y="767" text-anchor="end" textLength="15.2" lengthAdjust="spacingAndGlyphs" font-size="10.4">1.5</text>
<line x1="300.4" y1="804" x2="304.9" y2="804" stroke="#000" stroke-width="1.4"/>
<text x="295.2" y="807.7" text-anchor="end" textLength="15.2" lengthAdjust="spacingAndGlyphs" font-size="10.4">1.0</text>
<line x1="300.4" y1="845.3" x2="304.9" y2="845.3" stroke="#000" stroke-width="1.4"/>
<text x="295.2" y="849" text-anchor="end" textLength="15.2" lengthAdjust="spacingAndGlyphs" font-size="10.4">0.5</text>
<line x1="300.4" y1="886.3" x2="304.9" y2="886.3" stroke="#000" stroke-width="1.4"/>
<text x="295.2" y="890" text-anchor="end" textLength="15.2" lengthAdjust="spacingAndGlyphs" font-size="10.4">0.0</text>
<text x="396.8" y="751.2" text-anchor="middle" textLength="25.4" lengthAdjust="spacingAndGlyphs" font-size="11">8226</text>
<line x1="118.4" y1="886.3" x2="118.4" y2="891" stroke="#000" stroke-width="1.4"/>
<text x="118.4" y="904.7" text-anchor="middle" textLength="46" lengthAdjust="spacingAndGlyphs" font-size="10.8">pre-wash</text>
<line x1="210.5" y1="886.3" x2="210.5" y2="891" stroke="#000" stroke-width="1.4"/>
<text x="210.5" y="904.7" text-anchor="middle" textLength="52" lengthAdjust="spacingAndGlyphs" font-size="10.8">post-wash</text>
<line x1="350.8" y1="886.3" x2="350.8" y2="891" stroke="#000" stroke-width="1.4"/>
<text x="350.8" y="904.7" text-anchor="middle" textLength="46" lengthAdjust="spacingAndGlyphs" font-size="10.8">pre-wash</text>
<line x1="442.8" y1="886.3" x2="442.8" y2="891" stroke="#000" stroke-width="1.4"/>
<text x="442.8" y="904.7" text-anchor="middle" textLength="52" lengthAdjust="spacingAndGlyphs" font-size="10.8">post-wash</text>
<text transform="translate(38.2 823.3) rotate(-90)" text-anchor="middle" textLength="63.5" lengthAdjust="spacingAndGlyphs" font-size="12.4" stroke="#111" stroke-width="0.3">RFU to pLK0.1</text>
<rect x="429.3" y="761" width="13.3" height="8.5" fill="#68a93e"/>
<text x="447" y="768.8" textLength="27.9" lengthAdjust="spacingAndGlyphs" font-size="10.4">pLKO</text>
<rect x="429.3" y="772.1" width="13.3" height="8.5" fill="#a9082c"/>
<text x="447" y="779.9" textLength="40.7" lengthAdjust="spacingAndGlyphs" font-size="10.4">shCD86</text>
<rect x="429.3" y="783.2" width="13.3" height="8.5" fill="#2e4c7e"/>
<text x="447" y="791" textLength="40.7" lengthAdjust="spacingAndGlyphs" font-size="10.4">shCD28</text>
</svg>
</body></html>
